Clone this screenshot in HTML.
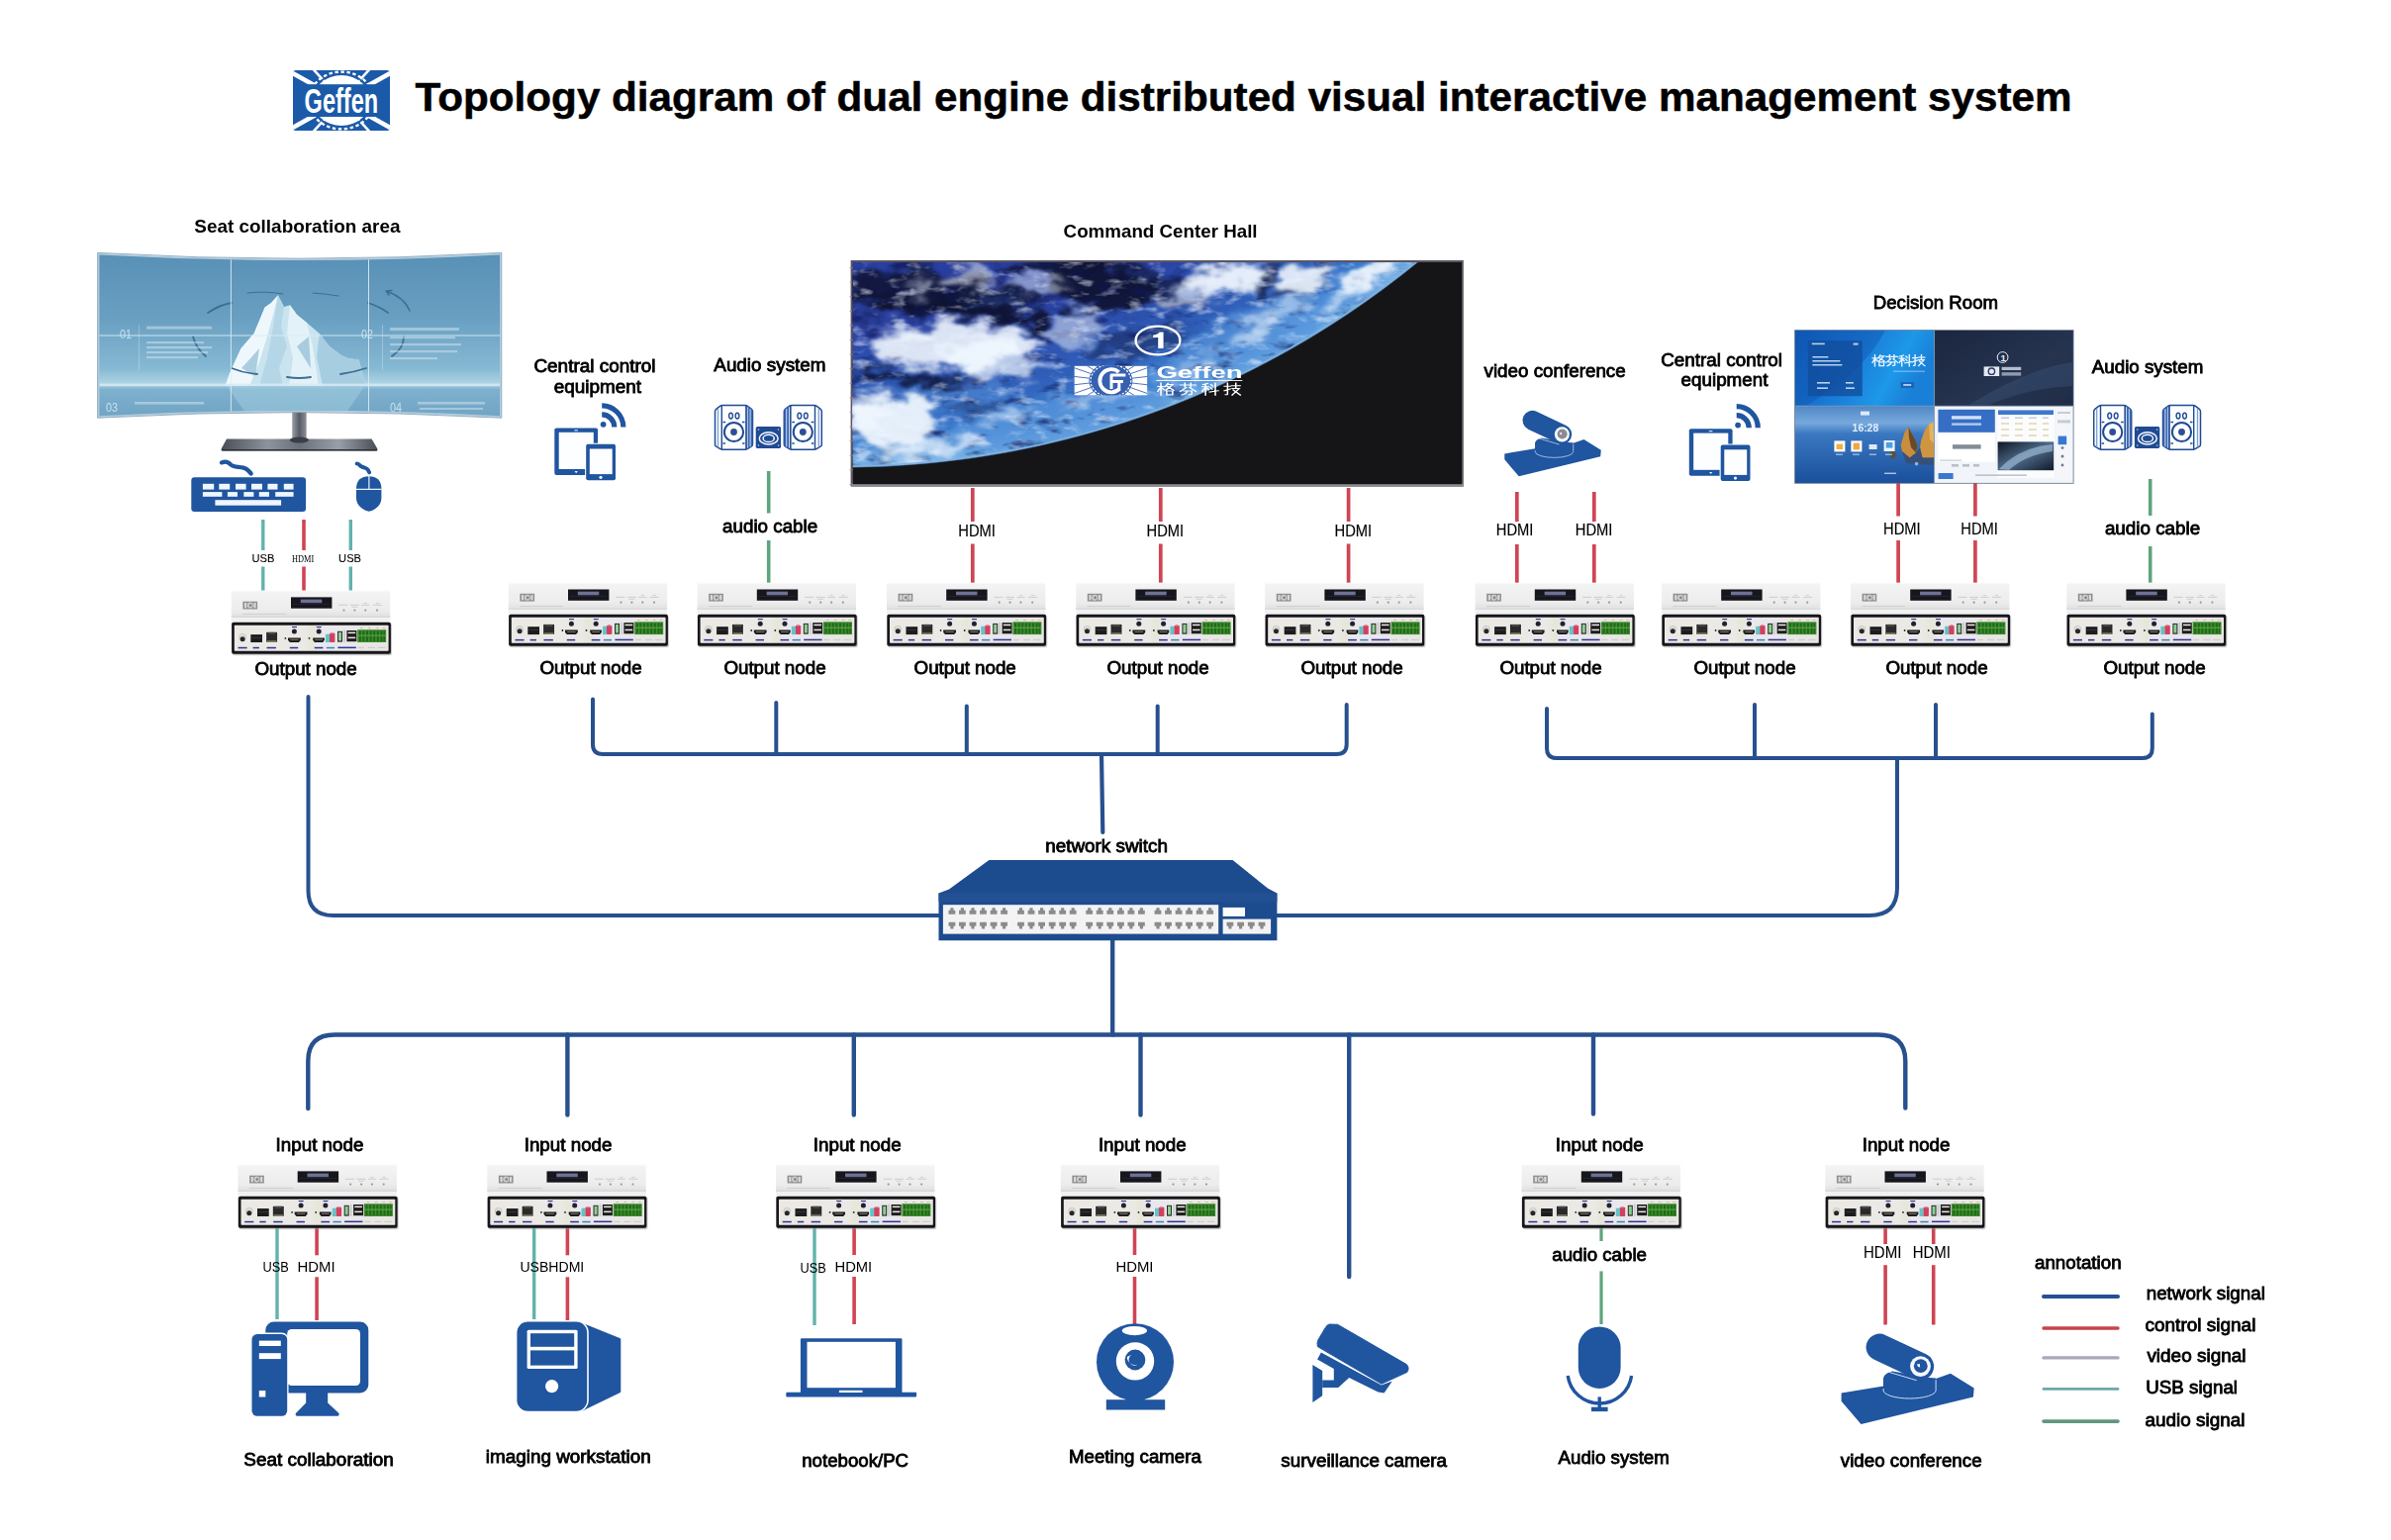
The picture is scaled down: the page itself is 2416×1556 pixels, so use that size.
<!DOCTYPE html>
<html><head><meta charset="utf-8"><title>Topology diagram</title>
<style>
html,body{margin:0;padding:0;background:#fff;}
body{width:2416px;height:1556px;overflow:hidden;}
svg{display:block;font-family:"Liberation Sans",sans-serif;}
</style></head><body>
<svg width="2416" height="1556" viewBox="0 0 2416 1556">
<rect width="2416" height="1556" fill="#fff"/>
<defs>
<linearGradient id="gTop" x1="0" y1="0" x2="0" y2="1">
<stop offset="0" stop-color="#f4f4f4"/><stop offset="0.75" stop-color="#ececec"/><stop offset="1" stop-color="#e0e0e0"/>
</linearGradient>
<linearGradient id="gRear" x1="0" y1="0" x2="1" y2="0">
<stop offset="0" stop-color="#ece9e4"/><stop offset="0.45" stop-color="#ebe9e6"/><stop offset="0.5" stop-color="#e6e6d8"/><stop offset="0.55" stop-color="#e9e8ee"/><stop offset="1" stop-color="#e8e6e2"/>
</linearGradient>
<filter id="soft" x="-5%" y="-5%" width="110%" height="110%"><feGaussianBlur stdDeviation="0.35"/></filter>
<symbol id="dev" width="166" height="70" viewBox="0 0 166 70" overflow="visible">
<g filter="url(#soft)">
<!-- front panel -->
<rect x="0" y="0.3" width="160.4" height="27" fill="url(#gTop)"/>
<rect x="0" y="0.3" width="160.4" height="1" fill="#fafafa"/>
<rect x="0" y="26.2" width="160.4" height="1.4" fill="#d9d9d9"/>
<rect x="0" y="27.6" width="160.4" height="4.6" fill="#f1f1f1"/>
<rect x="11.6" y="11.3" width="14.7" height="7.8" fill="#8e8e8e"/>
<rect x="13.2" y="12.6" width="2.2" height="5.2" fill="#d9d9d9"/>
<rect x="22.6" y="12.6" width="2.2" height="5.2" fill="#d9d9d9"/>
<circle cx="19" cy="15.2" r="3" fill="#cfcfcf"/><circle cx="19.4" cy="15.2" r="1.5" fill="#8a8a8a"/>
<rect x="11.3" y="23.6" width="44" height="1" fill="#cfcfcf"/>
<rect x="60.2" y="7" width="41.4" height="11.3" fill="#15151c"/>
<rect x="70" y="9.2" width="21.5" height="3.6" fill="#6d7196"/>
<rect x="62" y="13.6" width="38" height="0.8" fill="#262633"/>
<g fill="#c9c9c9">
<rect x="108.5" y="14.4" width="9" height="0.9"/><rect x="120" y="14.4" width="9" height="0.9"/><rect x="131.5" y="14.4" width="8" height="0.9"/><rect x="143" y="14.4" width="9" height="0.9"/>
<rect x="121.5" y="16.4" width="6" height="0.8"/><rect x="134" y="12.6" width="3" height="0.8"/><rect x="146" y="12.6" width="3" height="0.8"/>
</g>
<g fill="#9a9a9a"><circle cx="113.7" cy="20.2" r="1.1"/><circle cx="124.6" cy="20.2" r="1.1"/><circle cx="135.5" cy="20.2" r="1.1"/><circle cx="147.2" cy="20.2" r="1.1"/></g>
<!-- rear panel -->
<rect x="1.2" y="33.4" width="161" height="32.4" rx="2" fill="#9a9a9a" opacity="0.5"/>
<rect x="0.3" y="32.3" width="160.8" height="32" rx="1.8" fill="#17171b"/>
<rect x="3" y="35.3" width="155.8" height="26" rx="0.8" fill="url(#gRear)"/>
<!-- jack -->
<circle cx="11.3" cy="47.6" r="3.6" fill="#dcdcd6"/><circle cx="11.3" cy="47.2" r="3.4" fill="none" stroke="#bdbdb5" stroke-width="0.6"/>
<circle cx="11.3" cy="49.3" r="2.5" fill="#26262a"/>
<!-- sfp -->
<rect x="19.5" y="44.7" width="11.7" height="7.9" fill="#1b1b1e"/>
<rect x="20.5" y="47.6" width="9.7" height="0.8" fill="#3d3d42"/>
<!-- rj45 -->
<rect x="34.4" y="41.6" width="12.8" height="11.6" fill="#f4f4ee"/>
<rect x="35.3" y="42.4" width="11" height="10" fill="#2a2a2c"/>
<rect x="37" y="42.4" width="7.6" height="2" fill="#4a4a42"/>
<rect x="36" y="51" width="9.6" height="1.2" fill="#9a9a70"/>
<!-- hdmi 1 -->
<circle cx="54.6" cy="48.5" r="0.9" fill="#222"/>
<path d="M57.2 48 H70 V50.4 L68.2 52.6 H59 L57.2 50.4 Z" fill="#1d1d20"/>
<rect x="59.4" y="49.4" width="8.4" height="1" fill="#8a7a58"/>
<circle cx="63.6" cy="41.7" r="2.5" fill="#222226"/>
<rect x="61.2" y="36.6" width="5" height="1.1" fill="#2b2f8f"/>
<!-- hdmi 2 -->
<circle cx="78.7" cy="48.5" r="0.9" fill="#222"/>
<path d="M82.4 48 H94.1 V50.4 L92.4 52.6 H84.1 L82.4 50.4 Z" fill="#1d1d20"/>
<rect x="84.4" y="49.4" width="7.8" height="1" fill="#8a7a58"/>
<circle cx="88.4" cy="41.7" r="2.5" fill="#222226"/>
<rect x="86" y="36.6" width="5" height="1.1" fill="#2b2f8f"/>
<!-- audio jacks -->
<rect x="95.2" y="44.3" width="4" height="8.3" fill="#62c4c6"/>
<rect x="99.2" y="43.4" width="5.4" height="9.2" rx="0.8" fill="#d2405f"/>
<rect x="100.4" y="42.6" width="3" height="1.4" fill="#e08aa0"/>
<!-- small green usb -->
<rect x="107.2" y="41.4" width="5" height="10.8" fill="#2a2a2a"/>
<rect x="108.2" y="42.4" width="3" height="8.6" fill="#8bcf8f"/>
<rect x="113.4" y="40.4" width="1.6" height="12" fill="#c8c8c8"/>
<!-- usb -->
<rect x="116.6" y="40.6" width="10" height="11.2" fill="#1c1c1e"/>
<rect x="117.8" y="42.2" width="7.6" height="1.5" fill="#ece8e0"/>
<rect x="117.8" y="47.2" width="7.6" height="1.5" fill="#ece8e0"/>
<!-- terminal block -->
<rect x="127.4" y="39.8" width="29" height="12.8" fill="#3c8e2c"/>
<g fill="#24661c">
<rect x="129" y="41" width="2" height="10.6"/><rect x="132.6" y="41" width="2" height="10.6"/><rect x="136.2" y="41" width="2" height="10.6"/><rect x="139.8" y="41" width="2" height="10.6"/>
<rect x="143.4" y="41" width="2" height="10.6"/><rect x="147" y="41" width="2" height="10.6"/><rect x="150.6" y="41" width="2" height="10.6"/><rect x="153.6" y="41" width="1.6" height="10.6"/>
</g>
<rect x="127.4" y="45.2" width="29" height="1.1" fill="#56a844"/>
<g fill="#dca0a0"><rect x="130" y="37.6" width="3" height="0.7"/><rect x="138" y="37.6" width="3" height="0.7"/><rect x="146" y="37.6" width="3" height="0.7"/><rect x="152.5" y="37.6" width="3" height="0.7"/></g>
<!-- labels -->
<g fill="#2e3296">
<rect x="6.7" y="57.4" width="9.1" height="1.5"/><rect x="21.8" y="57.4" width="6.4" height="1.5"/><rect x="35.7" y="57.4" width="9.4" height="1.5"/>
<rect x="59" y="57.4" width="8.4" height="1.5"/><rect x="83.9" y="57.4" width="8.7" height="1.5"/><rect x="107.6" y="57.2" width="18.4" height="1.5"/>
</g>
<rect x="96" y="57.4" width="8.3" height="1.5" fill="#3a86b8"/>
<g fill="#cfcfc4"><rect x="128" y="57.4" width="6" height="1.2"/><rect x="138" y="57.4" width="7" height="1.2"/><rect x="148" y="57.4" width="7.5" height="1.2"/></g>
</g>
</symbol>
</defs>
<g transform="translate(296 71)"><clipPath id="lgc"><rect x="0" y="0" width="98" height="61" rx="3"/></clipPath>
<g clip-path="url(#lgc)">
<rect x="0" y="0" width="98" height="61" fill="#1b5aa9"/>
<g stroke="#fff" stroke-linecap="butt">
<path d="M49 30.5 L-3 1.4 M49 30.5 L101 1.4 M49 30.5 L-3 59.6 M49 30.5 L101 59.6" stroke-width="4.6"/>
<path d="M49 30.5 L20.6 -1 M49 30.5 L77.4 -1 M49 30.5 L20.6 62 M49 30.5 L77.4 62" stroke-width="2.6"/>
</g>
<ellipse cx="49" cy="30.5" rx="32.6" ry="28.8" fill="none" stroke="#fff" stroke-width="2.6" stroke-dasharray="3.4 2.6"/>
<ellipse cx="49" cy="30.5" rx="30.4" ry="26.8" fill="none" stroke="#1b5aa9" stroke-width="1.8"/>
<ellipse cx="49" cy="30.5" rx="29" ry="25.4" fill="#fff"/>
<rect x="0" y="14.2" width="98" height="32.8" fill="#1b5aa9"/>
</g>
<text x="11.6" y="43.2" font-size="34.5" font-weight="bold" fill="#fff" textLength="74.6" lengthAdjust="spacingAndGlyphs">Geffen</text></g>
<text x="419.6" y="112.4" font-size="40.5" font-weight="bold" fill="#000" stroke="#000" stroke-width="0.5" textLength="1673.9" lengthAdjust="spacingAndGlyphs">Topology diagram of dual engine distributed visual interactive management system</text>
<path d="M311.5 704 V900 Q311.5 925 336.5 925 H950" stroke="#27508f" stroke-width="4" fill="none" stroke-linecap="round" stroke-linejoin="round"/>
<path d="M599 706.5 V752 Q599 762 609 762 H1350.7 Q1360.7 762 1360.7 752 V712" stroke="#27508f" stroke-width="4" fill="none" stroke-linecap="round" stroke-linejoin="round"/>
<path d="M784.3 710 V762" stroke="#27508f" stroke-width="4" fill="none" stroke-linecap="round" stroke-linejoin="round"/>
<path d="M976.8 713.5 V762" stroke="#27508f" stroke-width="4" fill="none" stroke-linecap="round" stroke-linejoin="round"/>
<path d="M1169.7 713.5 V762" stroke="#27508f" stroke-width="4" fill="none" stroke-linecap="round" stroke-linejoin="round"/>
<path d="M1113 762 L1114.3 841" stroke="#27508f" stroke-width="4.2" fill="none" stroke-linecap="round" stroke-linejoin="round"/>
<path d="M1563 716 V756 Q1563 766 1573 766 H2164.8 Q2174.8 766 2174.8 756 V721.5" stroke="#27508f" stroke-width="4" fill="none" stroke-linecap="round" stroke-linejoin="round"/>
<path d="M1773 712 V766" stroke="#27508f" stroke-width="4" fill="none" stroke-linecap="round" stroke-linejoin="round"/>
<path d="M1956 712 V766" stroke="#27508f" stroke-width="4" fill="none" stroke-linecap="round" stroke-linejoin="round"/>
<path d="M1917 766 V897 Q1917 925 1889 925 H1289" stroke="#27508f" stroke-width="4" fill="none" stroke-linecap="round" stroke-linejoin="round"/>
<path d="M1124.2 948 V1045.5" stroke="#27508f" stroke-width="4.4" fill="none" stroke-linecap="round" stroke-linejoin="round"/>
<path d="M311.3 1120 V1072 Q311.3 1045.5 338 1045.5 H1898 Q1925.3 1045.5 1925.3 1072 V1119.5" stroke="#27508f" stroke-width="4.4" fill="none" stroke-linecap="round" stroke-linejoin="round"/>
<path d="M573.4 1045.5 V1126.5" stroke="#27508f" stroke-width="4.4" fill="none" stroke-linecap="round" stroke-linejoin="round"/>
<path d="M862.8 1045.5 V1126.5" stroke="#27508f" stroke-width="4.4" fill="none" stroke-linecap="round" stroke-linejoin="round"/>
<path d="M1152.5 1045.5 V1126.5" stroke="#27508f" stroke-width="4.4" fill="none" stroke-linecap="round" stroke-linejoin="round"/>
<path d="M1363.2 1045.5 V1290" stroke="#27508f" stroke-width="4.4" fill="none" stroke-linecap="round" stroke-linejoin="round"/>
<path d="M1610 1045.5 V1125.5" stroke="#27508f" stroke-width="4.4" fill="none" stroke-linecap="round" stroke-linejoin="round"/>
<line x1="265.8" y1="525.0" x2="265.8" y2="556.0" stroke="#62b3ad" stroke-width="3.4" stroke-linecap="butt"/>
<line x1="265.8" y1="572.5" x2="265.8" y2="597.5" stroke="#62b3ad" stroke-width="3.4" stroke-linecap="butt"/>
<line x1="307.0" y1="525.0" x2="307.0" y2="556.0" stroke="#cf4553" stroke-width="3.6" stroke-linecap="butt"/>
<line x1="307.0" y1="572.5" x2="307.0" y2="597.5" stroke="#cf4553" stroke-width="3.6" stroke-linecap="butt"/>
<line x1="354.3" y1="525.0" x2="354.3" y2="556.0" stroke="#62b3ad" stroke-width="3.4" stroke-linecap="butt"/>
<line x1="354.3" y1="572.5" x2="354.3" y2="597.5" stroke="#62b3ad" stroke-width="3.4" stroke-linecap="butt"/>
<line x1="776.7" y1="476.0" x2="776.7" y2="518.5" stroke="#5ea57d" stroke-width="3.6" stroke-linecap="butt"/>
<line x1="776.7" y1="546.0" x2="776.7" y2="589.5" stroke="#5ea57d" stroke-width="3.6" stroke-linecap="butt"/>
<line x1="982.8" y1="493.0" x2="982.8" y2="527.0" stroke="#cf4553" stroke-width="3.7" stroke-linecap="butt"/>
<line x1="982.8" y1="549.5" x2="982.8" y2="589.5" stroke="#cf4553" stroke-width="3.7" stroke-linecap="butt"/>
<line x1="1172.8" y1="493.0" x2="1172.8" y2="527.0" stroke="#cf4553" stroke-width="3.7" stroke-linecap="butt"/>
<line x1="1172.8" y1="549.5" x2="1172.8" y2="589.5" stroke="#cf4553" stroke-width="3.7" stroke-linecap="butt"/>
<line x1="1362.6" y1="493.0" x2="1362.6" y2="527.0" stroke="#cf4553" stroke-width="3.7" stroke-linecap="butt"/>
<line x1="1362.6" y1="549.5" x2="1362.6" y2="589.5" stroke="#cf4553" stroke-width="3.7" stroke-linecap="butt"/>
<line x1="1532.8" y1="497.0" x2="1532.8" y2="527.0" stroke="#cf4553" stroke-width="3.7" stroke-linecap="butt"/>
<line x1="1532.8" y1="550.0" x2="1532.8" y2="589.5" stroke="#cf4553" stroke-width="3.7" stroke-linecap="butt"/>
<line x1="1610.8" y1="497.0" x2="1610.8" y2="527.0" stroke="#cf4553" stroke-width="3.7" stroke-linecap="butt"/>
<line x1="1610.8" y1="550.0" x2="1610.8" y2="589.5" stroke="#cf4553" stroke-width="3.7" stroke-linecap="butt"/>
<line x1="1918.1" y1="488.0" x2="1918.1" y2="521.5" stroke="#cf4553" stroke-width="3.7" stroke-linecap="butt"/>
<line x1="1918.1" y1="546.0" x2="1918.1" y2="589.5" stroke="#cf4553" stroke-width="3.7" stroke-linecap="butt"/>
<line x1="1995.9" y1="488.0" x2="1995.9" y2="521.5" stroke="#cf4553" stroke-width="3.7" stroke-linecap="butt"/>
<line x1="1995.9" y1="546.0" x2="1995.9" y2="589.5" stroke="#cf4553" stroke-width="3.7" stroke-linecap="butt"/>
<line x1="2172.7" y1="484.0" x2="2172.7" y2="521.0" stroke="#5ea57d" stroke-width="3.6" stroke-linecap="butt"/>
<line x1="2172.7" y1="552.0" x2="2172.7" y2="589.5" stroke="#5ea57d" stroke-width="3.6" stroke-linecap="butt"/>
<line x1="280.0" y1="1240.0" x2="280.0" y2="1333.0" stroke="#62b3ad" stroke-width="3.4" stroke-linecap="butt"/>
<line x1="320.1" y1="1240.0" x2="320.1" y2="1268.3" stroke="#cf4553" stroke-width="3.6" stroke-linecap="butt"/>
<line x1="320.1" y1="1290.3" x2="320.1" y2="1334.0" stroke="#cf4553" stroke-width="3.6" stroke-linecap="butt"/>
<line x1="539.7" y1="1240.0" x2="539.7" y2="1333.0" stroke="#62b3ad" stroke-width="3.4" stroke-linecap="butt"/>
<line x1="573.4" y1="1240.0" x2="573.4" y2="1268.3" stroke="#cf4553" stroke-width="3.6" stroke-linecap="butt"/>
<line x1="573.4" y1="1290.3" x2="573.4" y2="1337.0" stroke="#cf4553" stroke-width="3.6" stroke-linecap="butt"/>
<line x1="823.0" y1="1240.0" x2="823.0" y2="1339.0" stroke="#62b3ad" stroke-width="3.4" stroke-linecap="butt"/>
<line x1="863.1" y1="1240.0" x2="863.1" y2="1268.0" stroke="#cf4553" stroke-width="3.6" stroke-linecap="butt"/>
<line x1="863.1" y1="1290.0" x2="863.1" y2="1338.0" stroke="#cf4553" stroke-width="3.6" stroke-linecap="butt"/>
<line x1="1146.5" y1="1240.0" x2="1146.5" y2="1268.0" stroke="#cf4553" stroke-width="3.6" stroke-linecap="butt"/>
<line x1="1146.5" y1="1290.0" x2="1146.5" y2="1339.0" stroke="#cf4553" stroke-width="3.6" stroke-linecap="butt"/>
<line x1="1618.0" y1="1240.0" x2="1618.0" y2="1254.0" stroke="#5ea57d" stroke-width="3.2" stroke-linecap="butt"/>
<line x1="1618.0" y1="1284.4" x2="1618.0" y2="1338.0" stroke="#5ea57d" stroke-width="3.2" stroke-linecap="butt"/>
<line x1="1905.1" y1="1240.0" x2="1905.1" y2="1257.0" stroke="#cf4553" stroke-width="3.6" stroke-linecap="butt"/>
<line x1="1905.1" y1="1278.2" x2="1905.1" y2="1338.5" stroke="#cf4553" stroke-width="3.6" stroke-linecap="butt"/>
<line x1="1953.7" y1="1240.0" x2="1953.7" y2="1257.0" stroke="#cf4553" stroke-width="3.6" stroke-linecap="butt"/>
<line x1="1953.7" y1="1278.2" x2="1953.7" y2="1338.5" stroke="#cf4553" stroke-width="3.6" stroke-linecap="butt"/>
<use href="#dev" x="233.8" y="596.4"/>
<use href="#dev" x="513.8" y="588.5"/>
<use href="#dev" x="704.6" y="588.5"/>
<use href="#dev" x="896" y="588.5"/>
<use href="#dev" x="1087.2" y="588.5"/>
<use href="#dev" x="1278.2" y="588.5"/>
<use href="#dev" x="1490.6" y="588.5"/>
<use href="#dev" x="1679" y="588.5"/>
<use href="#dev" x="1870" y="588.5"/>
<use href="#dev" x="2088.2" y="588.5"/>
<use href="#dev" x="240.5" y="1176.4"/>
<use href="#dev" x="492.3" y="1176.4"/>
<use href="#dev" x="784" y="1176.4"/>
<use href="#dev" x="1071.8" y="1176.4"/>
<use href="#dev" x="1537.6" y="1176.4"/>
<use href="#dev" x="1844.3" y="1176.4"/>
<g>
<defs>
<linearGradient id="mg" x1="0" y1="0" x2="0" y2="1">
<stop offset="0" stop-color="#5890b6"/><stop offset="0.4" stop-color="#699fc1"/><stop offset="0.7" stop-color="#86b9d3"/><stop offset="0.79" stop-color="#aed4e4"/><stop offset="0.825" stop-color="#7eb1cd"/><stop offset="1" stop-color="#6fa3c4"/>
</linearGradient>
<linearGradient id="stg" x1="0" y1="0" x2="1" y2="0"><stop offset="0" stop-color="#9a9ea6"/><stop offset="0.5" stop-color="#585c66"/><stop offset="1" stop-color="#8a8e96"/></linearGradient>
<linearGradient id="bsg" x1="0" y1="0" x2="1" y2="0"><stop offset="0" stop-color="#4a4e56"/><stop offset="0.3" stop-color="#8d949e"/><stop offset="0.5" stop-color="#6a707a"/><stop offset="0.75" stop-color="#989fa8"/><stop offset="1" stop-color="#4a4d55"/></linearGradient>
<clipPath id="mclip"><path d="M100.4 257.4 Q300 268.5 505 257.4 V420.2 Q300 409.4 100.4 420.2 Z"/></clipPath>
</defs>
<rect x="295.2" y="416" width="14.4" height="29" fill="url(#stg)"/>
<path d="M229 443.4 H375.6 L381.4 453.6 Q381.6 455.4 379.4 455.4 H225.4 Q223.2 455.4 223.6 453.6 Z" fill="url(#bsg)"/>
<ellipse cx="302.4" cy="444.6" rx="9.6" ry="3" fill="#3a3d46"/>
<path d="M224 454 H381 L381.4 455.6 H223.6 Z" fill="#2e3036"/>
<path d="M98.6 255.4 Q300 267 506.8 255.4 V422.2 Q300 411 98.6 422.2 Z" fill="#b4ccdd" stroke="#8aa7bd" stroke-width="0.9"/>
<g clip-path="url(#mclip)">
<rect x="99" y="255" width="408" height="168" fill="url(#mg)"/>
<!-- iceberg -->
<path d="M226.8 390 L232.3 376.6 L243.4 352.3 L256.6 336.9 L267.6 310.4 L274 306 L280.9 298.2 L287 310 L293 308.2 L300 318 L310 326 L322.8 336.9 L333 350 L344.9 358.9 L352 362 L362.6 363.4 L366 376 L369.2 390 Z" fill="#c9e3ef"/>
<path d="M280.9 298.2 L274 306 L267.6 310.4 L256.6 336.9 L243.4 352.3 L232.3 376.6 L228 390 L252 390 L262 366 L270 340 L276 318 Z" fill="#eef8fc"/>
<path d="M280.9 298.2 L287 310 L284 330 L290 350 L282 372 L286 390 L262 390 L270 362 L276 330 Z" fill="#b5d6e6"/>
<path d="M293 308.2 L300 318 L310 326 L316 350 L322 390 L292 390 L296 362 L290 336 Z" fill="#e3f2f9"/>
<path d="M322.8 336.9 L333 350 L344.9 358.9 L352 362 L362.6 363.4 L369.2 390 L326 390 L320 360 Z" fill="#a6cde0"/>
<path d="M244 372 L262 352 L258 380 Z M300 350 L312 340 L314 372 Z" fill="#8fbcd3" opacity="0.7"/>
<rect x="99" y="387.6" width="408" height="2.6" fill="#d6eaf3" opacity="0.85"/>
<path d="M230 391 H368 L350 417 H248 Z" fill="#a3cfe2" opacity="0.5"/>
<!-- arcs -->
<g fill="none" stroke="#3c6f94" stroke-width="1.8" stroke-linecap="round">
<path d="M210 316 Q222 308 234 306"/><path d="M195 340 Q198 352 208 360"/><path d="M234 372 Q246 377 260 378"/>
<path d="M290 381 Q302 383 314 381"/><path d="M344 378 Q358 376 370 372"/><path d="M372 306 Q384 310 392 316"/>
<path d="M408 340 Q408 352 396 360"/><path d="M250 296 Q270 294 286 297" stroke-width="1"/><path d="M316 296 Q330 297 342 299" stroke-width="1"/>
<path d="M390 294 Q408 300 414 314 M390 294 l6 -0.5 M390 294 l3 4" stroke-width="1.4"/>
</g>
<!-- text blocks -->
<g fill="#e6f2f8" opacity="0.42" filter="url(#b1)">
<rect x="148" y="329.6" width="66" height="3"/><rect x="148" y="345" width="58" height="2.2"/><rect x="148" y="350" width="66" height="2.2"/><rect x="148" y="355" width="62" height="2.2"/><rect x="148" y="360" width="52" height="2.2"/>
<rect x="394" y="331" width="70" height="3"/><rect x="394" y="340" width="66" height="2.2"/><rect x="394" y="347" width="72" height="2.2"/><rect x="394" y="354" width="68" height="2.2"/><rect x="394" y="361" width="48" height="2.2"/>
<rect x="136" y="406" width="70" height="2.6"/><rect x="422" y="406" width="68" height="2.6"/><rect x="424" y="412" width="64" height="2"/>
<rect x="140" y="328" width="0.8" height="46"/><rect x="386" y="328" width="0.8" height="46"/>
</g>
<g fill="#eef6fa" font-size="13" opacity="0.7">
<text x="121" y="342" textLength="12" lengthAdjust="spacingAndGlyphs">01</text><text x="365" y="342" textLength="12" lengthAdjust="spacingAndGlyphs">02</text>
<text x="107" y="416" textLength="12" lengthAdjust="spacingAndGlyphs">03</text><text x="394" y="416" textLength="12" lengthAdjust="spacingAndGlyphs">04</text>
</g>
<!-- dividers -->
<g stroke="#d9edf6" stroke-width="1" opacity="0.9">
<path d="M233.4 255 V423 M372.5 255 V423 M99 339 H507"/>
</g>
</g>
</g>
<g>
<defs>
<clipPath id="bsc"><rect x="861.8" y="265" width="615.2" height="224.4"/></clipPath>
<radialGradient id="earth" cx="851.1" cy="-446.7" r="919.6" gradientUnits="userSpaceOnUse">
<stop offset="0" stop-color="#1f2f8c"/><stop offset="0.84" stop-color="#2a40a2"/><stop offset="0.93" stop-color="#3060ba"/><stop offset="0.972" stop-color="#3f82d2"/><stop offset="0.993" stop-color="#68a8e2"/><stop offset="0.9985" stop-color="#7fb4e4"/><stop offset="1" stop-color="#1c2a40"/>
</radialGradient>
<filter id="bl5" x="-30%" y="-30%" width="160%" height="160%"><feGaussianBlur stdDeviation="5"/></filter>
<filter id="rough" x="-5%" y="-5%" width="110%" height="110%" color-interpolation-filters="sRGB">
<feTurbulence type="fractalNoise" baseFrequency="0.035 0.07" numOctaves="4" seed="7" result="n"/>
<feGaussianBlur in="SourceGraphic" stdDeviation="3.2" result="b"/>
<feDisplacementMap in="b" in2="n" scale="34" xChannelSelector="R" yChannelSelector="G" result="d"/>
<feGaussianBlur in="d" stdDeviation="0.9"/>
</filter>
<filter id="grain" x="0" y="0" width="100%" height="100%" color-interpolation-filters="sRGB">
<feTurbulence type="fractalNoise" baseFrequency="0.05 0.11" numOctaves="3" seed="3" result="n"/>
<feColorMatrix in="n" type="matrix" values="0 0 0 0 0.93  0 0 0 0 0.96  0 0 0 0 1  2.6 2.0 0 0 -2.45"/>
</filter>
<filter id="grain2" x="0" y="0" width="100%" height="100%" color-interpolation-filters="sRGB">
<feTurbulence type="fractalNoise" baseFrequency="0.04 0.09" numOctaves="3" seed="19" result="n"/>
<feColorMatrix in="n" type="matrix" values="0 0 0 0 0.06  0 0 0 0 0.09  0 0 0 0 0.34  0 2.6 2.0 0 -2.5"/>
</filter>
<clipPath id="earthc"><circle cx="851.1" cy="-446.7" r="917.1"/></clipPath>
</defs>
<rect x="859.6" y="263" width="619.2" height="228.6" fill="#5a5560"/>
<rect x="860.6" y="488.6" width="618" height="3" fill="#8b8890"/>
<rect x="858.6" y="270.0" width="3" height="1" fill="#8d8b92"/><rect x="858.6" y="284.6" width="3" height="1" fill="#8d8b92"/><rect x="858.6" y="299.2" width="3" height="1" fill="#8d8b92"/><rect x="858.6" y="313.8" width="3" height="1" fill="#8d8b92"/><rect x="858.6" y="328.4" width="3" height="1" fill="#8d8b92"/><rect x="858.6" y="343.0" width="3" height="1" fill="#8d8b92"/><rect x="858.6" y="357.6" width="3" height="1" fill="#8d8b92"/><rect x="858.6" y="372.2" width="3" height="1" fill="#8d8b92"/><rect x="858.6" y="386.8" width="3" height="1" fill="#8d8b92"/><rect x="858.6" y="401.4" width="3" height="1" fill="#8d8b92"/><rect x="858.6" y="416.0" width="3" height="1" fill="#8d8b92"/><rect x="858.6" y="430.6" width="3" height="1" fill="#8d8b92"/><rect x="858.6" y="445.2" width="3" height="1" fill="#8d8b92"/><rect x="858.6" y="459.8" width="3" height="1" fill="#8d8b92"/><rect x="858.6" y="474.4" width="3" height="1" fill="#8d8b92"/><rect x="858.6" y="489.0" width="3" height="1" fill="#8d8b92"/>
<g clip-path="url(#bsc)">
<rect x="861.6" y="265" width="615.4" height="224.4" fill="#151517"/>
<circle cx="851.1" cy="-446.7" r="919.6" fill="url(#earth)"/>
<g clip-path="url(#earthc)">
<g fill="#5a96dc" filter="url(#rough)"><ellipse cx="1070" cy="425" rx="120" ry="26" transform="rotate(-9 1070 425)" opacity="0.7"/><ellipse cx="1250" cy="350" rx="90" ry="30" transform="rotate(-24 1250 350)" opacity="0.6"/><ellipse cx="1340" cy="310" rx="60" ry="16" transform="rotate(-32 1340 310)" opacity="0.6"/><ellipse cx="960" cy="400" rx="60" ry="14" transform="rotate(-4 960 400)" opacity="0.5"/><ellipse cx="1000" cy="300" rx="40" ry="10" transform="rotate(0 1000 300)" opacity="0.35"/></g>
<g fill="#0f1434" filter="url(#rough)"><ellipse cx="958" cy="311" rx="100" ry="10" transform="rotate(7 958 311)" opacity="1.0"/><ellipse cx="930" cy="288" rx="72" ry="16" transform="rotate(2 930 288)" opacity="0.9"/><ellipse cx="1010" cy="296" rx="50" ry="10" transform="rotate(6 1010 296)" opacity="0.8"/><ellipse cx="1116" cy="290" rx="56" ry="24" transform="rotate(0 1116 290)" opacity="0.95"/><ellipse cx="1070" cy="270" rx="60" ry="8" transform="rotate(0 1070 270)" opacity="0.9"/><ellipse cx="925" cy="383" rx="60" ry="4.6" transform="rotate(5 925 383)" opacity="0.95"/><ellipse cx="880" cy="376" rx="20" ry="5" transform="rotate(12 880 376)" opacity="0.9"/><ellipse cx="1053" cy="328" rx="10" ry="14" transform="rotate(0 1053 328)" opacity="0.9"/><ellipse cx="1280" cy="281" rx="7" ry="20" transform="rotate(32 1280 281)" opacity="0.85"/><ellipse cx="1306" cy="292" rx="20" ry="5" transform="rotate(-16 1306 292)" opacity="0.75"/><ellipse cx="1180" cy="292" rx="24" ry="12" transform="rotate(-10 1180 292)" opacity="0.6"/><ellipse cx="1150" cy="345" rx="56" ry="13" transform="rotate(-12 1150 345)" opacity="0.4"/><ellipse cx="875" cy="322" rx="14" ry="6" transform="rotate(0 875 322)" opacity="0.5"/><ellipse cx="990" cy="412" rx="26" ry="2.6" transform="rotate(-8 990 412)" opacity="0.6"/><ellipse cx="900" cy="458" rx="12" ry="2" transform="rotate(0 900 458)" opacity="0.5"/></g>
<rect x="861.6" y="265" width="615.4" height="224.4" filter="url(#grain2)" opacity="0.75"/>
<g fill="#eef5fd" filter="url(#rough)"><ellipse cx="965" cy="350" rx="82" ry="22" transform="rotate(-3 965 350)" opacity="0.9"/><ellipse cx="992" cy="358" rx="44" ry="14" transform="rotate(-4 992 358)" opacity="0.95"/><ellipse cx="915" cy="338" rx="30" ry="10" transform="rotate(0 915 338)" opacity="0.7"/><ellipse cx="1020" cy="372" rx="40" ry="9" transform="rotate(-8 1020 372)" opacity="0.7"/><ellipse cx="903" cy="428" rx="42" ry="27" transform="rotate(-8 903 428)" opacity="0.95"/><ellipse cx="880" cy="420" rx="22" ry="11" transform="rotate(0 880 420)" opacity="1.0"/><ellipse cx="884" cy="402" rx="22" ry="6" transform="rotate(0 884 402)" opacity="0.8"/><ellipse cx="940" cy="452" rx="50" ry="9" transform="rotate(-8 940 452)" opacity="0.7"/><ellipse cx="977" cy="280" rx="28" ry="10" transform="rotate(0 977 280)" opacity="0.55"/><ellipse cx="1046" cy="286" rx="34" ry="7" transform="rotate(4 1046 286)" opacity="0.5"/><ellipse cx="930" cy="287" rx="14" ry="6" transform="rotate(0 930 287)" opacity="0.5"/><ellipse cx="1088" cy="332" rx="26" ry="18" transform="rotate(-25 1088 332)" opacity="0.5"/><ellipse cx="1240" cy="281" rx="46" ry="14" transform="rotate(-10 1240 281)" opacity="0.95"/><ellipse cx="1318" cy="282" rx="34" ry="13" transform="rotate(-18 1318 282)" opacity="0.9"/><ellipse cx="1385" cy="277" rx="34" ry="9" transform="rotate(-30 1385 277)" opacity="0.95"/><ellipse cx="1200" cy="300" rx="30" ry="7" transform="rotate(-10 1200 300)" opacity="0.6"/><ellipse cx="1290" cy="318" rx="36" ry="7" transform="rotate(-24 1290 318)" opacity="0.5"/><ellipse cx="1262" cy="338" rx="24" ry="9" transform="rotate(-20 1262 338)" opacity="0.55"/><ellipse cx="1350" cy="306" rx="22" ry="5" transform="rotate(-32 1350 306)" opacity="0.6"/><ellipse cx="1016" cy="421" rx="30" ry="6" transform="rotate(-8 1016 421)" opacity="0.5"/><ellipse cx="1110" cy="402" rx="40" ry="5" transform="rotate(-14 1110 402)" opacity="0.4"/><ellipse cx="1200" cy="372" rx="40" ry="5" transform="rotate(-20 1200 372)" opacity="0.35"/></g>
<rect x="861.6" y="265" width="615.4" height="224.4" filter="url(#grain)" opacity="0.55"/>
</g>
</g>
<!-- logo overlay -->
<ellipse cx="1170" cy="344" rx="22.4" ry="14.4" fill="none" stroke="#fff" stroke-width="2.3"/>
<path d="M1171.6 335.4 h4 v16.6 h-5.4 v-11 h-5 v-2.6 q4.6 -0.4 6.4 -3 z" fill="#fff"/>
<g transform="translate(1085.4 369.6)"><clipPath id="glc1085"><rect x="0" y="0" width="74" height="30"/></clipPath>
<g clip-path="url(#glc1085)">
<rect x="0" y="0" width="74" height="30" fill="#fff"/>
<path d="M37 15 L96.6 21.7 M37 15 L93.6 34.8 M37 15 L87.8 46.9 M37 15 L79.4 57.4 M37 15 L68.9 65.8 M37 15 L56.8 71.6 M37 15 L43.7 74.6 M37 15 L30.3 74.6 M37 15 L17.2 71.6 M37 15 L5.1 65.8 M37 15 L-5.4 57.4 M37 15 L-13.8 46.9 M37 15 L-19.6 34.8 M37 15 L-22.6 21.7 M37 15 L-22.6 8.3 M37 15 L-19.6 -4.8 M37 15 L-13.8 -16.9 M37 15 L-5.4 -27.4 M37 15 L5.1 -35.8 M37 15 L17.2 -41.6 M37 15 L30.3 -44.6 M37 15 L43.7 -44.6 M37 15 L56.8 -41.6 M37 15 L68.9 -35.8 M37 15 L79.4 -27.4 M37 15 L87.8 -16.9 M37 15 L93.6 -4.8 M37 15 L96.6 8.3 " stroke="#3a64b4" stroke-width="0.9" fill="none"/>
<ellipse cx="37" cy="15" rx="22" ry="18" fill="#3660b0"/>
<ellipse cx="37" cy="15" rx="20.4" ry="16.4" fill="none" stroke="#fff" stroke-width="1.2" stroke-dasharray="2.2 1.5"/>
<path d="M45.2 6.4 A11.6 11.6 0 1 0 46 23" fill="none" stroke="#fff" stroke-width="3.8"/>
<path d="M36.4 9.4 H52 M37.6 9.4 V23.4 M36.4 16 H49.6 M45.4 16 V24" stroke="#fff" stroke-width="3" fill="none"/>
</g></g>
<text x="1168.4" y="382.2" font-size="16" font-weight="bold" fill="#fff" textLength="87.2" lengthAdjust="spacingAndGlyphs">Geffen</text>
<rect x="1168.4" y="384" width="87" height="0.9" fill="#fff"/>
<path transform="translate(1169.5 386.8) scale(1.674 1.240)" d="M0.3 3 H4 M2.1 0.3 V10 M2.1 3.4 L0.2 7 M2.1 3.4 L4 5.6 M6.4 0.4 L4.6 3.2 M6 1.4 H9.2 L5 6 M5.6 2.6 L9.8 6 M5.6 6.6 H9.2 V9.8 H5.6 Z" fill="none" stroke="#fff" stroke-width="0.93" stroke-linecap="square"/><path transform="translate(1191.9 386.8) scale(1.674 1.240)" d="M0.3 1.8 H9.7 M3.2 0.3 V3.2 M6.8 0.3 V3.2 M4 3.8 L0.4 7 M6 3.8 L9.8 7 M2.6 6.6 H7.4 V8.6 Q7.4 9.8 5.8 9.7 M4.6 6.6 Q4.4 8.8 1.4 9.9" fill="none" stroke="#fff" stroke-width="0.93" stroke-linecap="square"/><path transform="translate(1214.3 386.8) scale(1.674 1.240)" d="M3.6 0.5 L0.8 1.4 M0.3 3.2 H4.2 M2.3 1.2 V10 M2.3 3.6 L0.3 7 M2.3 3.6 L4.2 5.6 M5.6 1.4 L6.6 2.6 M5.4 4 L6.4 5.2 M4.8 7.4 L9.9 6.4 M8.2 0.3 V10" fill="none" stroke="#fff" stroke-width="0.93" stroke-linecap="square"/><path transform="translate(1236.7 386.8) scale(1.674 1.240)" d="M0.3 2.8 H3.8 M2.2 0.3 V9 Q2.2 9.9 1 9.6 M0.3 6.4 L3.8 5 M4.6 2.4 H9.8 M7.2 0.3 V4.6 M5 4.6 H9.2 L5 9.9 M5.6 5.8 L9.9 9.9" fill="none" stroke="#fff" stroke-width="0.93" stroke-linecap="square"/>
</g>
<g>
<defs>
<linearGradient id="d1" x1="0" y1="0" x2="1" y2="0.3"><stop offset="0" stop-color="#0f58b6"/><stop offset="0.5" stop-color="#1a7cd8"/><stop offset="0.8" stop-color="#1d98e8"/><stop offset="1" stop-color="#1a7fd6"/></linearGradient>
<linearGradient id="d2" x1="0" y1="0" x2="1" y2="1"><stop offset="0" stop-color="#1b2640"/><stop offset="0.6" stop-color="#26344f"/><stop offset="1" stop-color="#202c46"/></linearGradient>
<linearGradient id="d3" x1="0" y1="0" x2="0" y2="1"><stop offset="0" stop-color="#4f86c6"/><stop offset="0.22" stop-color="#77a9dc"/><stop offset="0.36" stop-color="#3a78c0"/><stop offset="1" stop-color="#1a4f9c"/></linearGradient>
<linearGradient id="d4i" x1="0" y1="0" x2="1" y2="1"><stop offset="0" stop-color="#0d1622"/><stop offset="0.5" stop-color="#4d6a88"/><stop offset="1" stop-color="#101a28"/></linearGradient>
<filter id="b1" x="-10%" y="-10%" width="120%" height="120%"><feGaussianBlur stdDeviation="0.6"/></filter>
</defs>
<rect x="1813.2" y="333.2" width="282.29999999999984" height="155.49999999999997" fill="#5f7385"/>
<!-- TL -->
<rect x="1814.0" y="334.0" width="140.5" height="76.19999999999999" fill="url(#d1)"/>
<path d="M1905 334 Q1880 380 1826 409 H1814 V334 Z" fill="#0f55b0" opacity="0.45"/>
<rect x="1826.8" y="344.2" width="55" height="56" fill="#124e9e" opacity="0.8"/>
<g fill="#d7e8fa" opacity="0.85" filter="url(#b1)">
<rect x="1830.8" y="346.6" width="13" height="1.6"/><rect x="1872.6" y="346.6" width="5" height="2"/>
<rect x="1831.4" y="360" width="16" height="1.5"/><rect x="1831.4" y="364" width="28" height="1.5"/><rect x="1831.4" y="368" width="30" height="1.5"/>
<rect x="1836" y="386" width="13" height="1.6"/><rect x="1836" y="391.4" width="11" height="1.6"/><rect x="1865" y="386" width="8" height="1.6"/><rect x="1865" y="391.4" width="9" height="1.6"/>
<rect x="1913" y="374.6" width="32" height="1.2" opacity="0.6"/>
</g>
<rect x="1920.6" y="386.2" width="13.6" height="5.6" fill="#1a62b8"/><rect x="1923.2" y="388.2" width="8" height="1.5" fill="#d7e8fa"/>
<path transform="translate(1891.8 358.4) scale(1.277 1.140)" d="M0.3 3 H4 M2.1 0.3 V10 M2.1 3.4 L0.2 7 M2.1 3.4 L4 5.6 M6.4 0.4 L4.6 3.2 M6 1.4 H9.2 L5 6 M5.6 2.6 L9.8 6 M5.6 6.6 H9.2 V9.8 H5.6 Z" fill="none" stroke="#e8f3ff" stroke-width="1.10" stroke-linecap="square"/><path transform="translate(1905.3 358.4) scale(1.277 1.140)" d="M0.3 1.8 H9.7 M3.2 0.3 V3.2 M6.8 0.3 V3.2 M4 3.8 L0.4 7 M6 3.8 L9.8 7 M2.6 6.6 H7.4 V8.6 Q7.4 9.8 5.8 9.7 M4.6 6.6 Q4.4 8.8 1.4 9.9" fill="none" stroke="#e8f3ff" stroke-width="1.10" stroke-linecap="square"/><path transform="translate(1918.8 358.4) scale(1.277 1.140)" d="M3.6 0.5 L0.8 1.4 M0.3 3.2 H4.2 M2.3 1.2 V10 M2.3 3.6 L0.3 7 M2.3 3.6 L4.2 5.6 M5.6 1.4 L6.6 2.6 M5.4 4 L6.4 5.2 M4.8 7.4 L9.9 6.4 M8.2 0.3 V10" fill="none" stroke="#e8f3ff" stroke-width="1.10" stroke-linecap="square"/><path transform="translate(1932.3 358.4) scale(1.277 1.140)" d="M0.3 2.8 H3.8 M2.2 0.3 V9 Q2.2 9.9 1 9.6 M0.3 6.4 L3.8 5 M4.6 2.4 H9.8 M7.2 0.3 V4.6 M5 4.6 H9.2 L5 9.9 M5.6 5.8 L9.9 9.9" fill="none" stroke="#e8f3ff" stroke-width="1.10" stroke-linecap="square"/>
<!-- TR -->
<rect x="1954.5" y="334.0" width="140.19999999999982" height="76.19999999999999" fill="url(#d2)"/>
<path d="M1990 409 Q2050 372 2094 366 V390 Q2050 392 2010 409 Z" fill="#3a5278" opacity="0.45" filter="url(#b1)"/>
<circle cx="2023.6" cy="361" r="5.4" fill="none" stroke="#e8eef8" stroke-width="1"/>
<text x="2021.4" y="364.6" font-size="9.6" fill="#e8eef8" font-weight="bold">1</text>
<rect x="2004.6" y="370.4" width="15.6" height="9.6" fill="#e4e9f2"/>
<circle cx="2012.4" cy="375.2" r="3.2" fill="none" stroke="#2a3d60" stroke-width="1.4"/>
<g fill="#cfd7e6" opacity="0.85"><rect x="2022.6" y="370.8" width="19.6" height="3.2"/><rect x="2022.6" y="376.2" width="19.6" height="3.4" opacity="0.75"/></g>
<!-- BL -->
<rect x="1814.0" y="410.2" width="140.5" height="77.69999999999999" fill="url(#d3)"/>
<g filter="url(#b1)">
<path d="M1920.6 449.7 L1924.5 436.7 L1928.4 431.5 L1931 436.7 L1934.8 443.2 L1937.4 449.7 L1936.1 457.4 L1929.7 462.6 L1921.9 456.1 Z" fill="#c98d3c"/>
<path d="M1928.4 431.5 L1931 436.7 L1934.8 443.2 L1937.4 449.7 L1936.1 457.4 L1931 452 L1929 442 Z" fill="#6a4a2a"/>
<path d="M1941.3 444.5 L1945.2 434.1 L1949.1 428.9 L1953.6 426.3 L1954.3 462.6 L1942.6 462.6 L1940 452.2 Z" fill="#cf953f"/>
<path d="M1949.1 428.9 L1953.6 426.3 L1954.3 448 L1950 444 Z" fill="#e3b35e"/>
<path d="M1921.9 456.1 L1929.7 462.6 L1936.1 457.4 L1940 452.2 L1942.6 462.6 L1954.3 462.6 V470 L1926 468 Z" fill="#3d4a66" opacity="0.75"/>
<path d="M1909.6 458 l3.2 -5.4 l3 5.6 l-1 5 h-4.2 z" fill="#58513a"/>
</g>
<g fill="#e8f2fc" opacity="0.92"><rect x="1880" y="415.6" width="9" height="4"/>
<text x="1871.6" y="435.6" font-size="10.4" font-weight="bold" fill="#eef6ff" textLength="26.6" lengthAdjust="spacingAndGlyphs" stroke="none">16:28</text></g>
<rect x="1853.4" y="445.4" width="11" height="11" fill="#fff"/><rect x="1855.6" y="448.6" width="6.4" height="5.4" fill="#f0b040"/>
<rect x="1870.4" y="445.4" width="11" height="11" fill="#fff"/><rect x="1872.6" y="447.6" width="6.4" height="6.8" fill="#f2a640"/>
<rect x="1888.6" y="449" width="8" height="5" fill="#dde9f6"/>
<rect x="1903.6" y="445" width="11" height="11" fill="#eef5ff"/><rect x="1905.8" y="447" width="6.6" height="5.6" fill="#4aa0e0"/>
<g fill="#cfe0f2" opacity="0.8"><rect x="1855" y="458.6" width="7" height="1.2"/><rect x="1872" y="458.6" width="7" height="1.2"/><rect x="1889" y="458.6" width="7" height="1.2"/><rect x="1905" y="458.6" width="7" height="1.2"/><rect x="1904" y="477.6" width="12" height="1.4"/></g>
<circle cx="1936.6" cy="468.6" r="1.8" fill="#8ab8e6"/>
<!-- BR -->
<rect x="1954.5" y="410.2" width="140.19999999999982" height="77.69999999999999" fill="#f1f4f8"/>
<rect x="1958.4" y="413.8" width="57.4" height="23" fill="#356ec4"/>
<g fill="#cfe0f8"><rect x="1972" y="420.2" width="30" height="3.4"/><rect x="1972" y="427.4" width="30" height="2.4" opacity="0.8"/></g>
<rect x="1958.4" y="437.6" width="57.4" height="29" fill="#ffffff"/>
<rect x="1973" y="449.2" width="28.6" height="4.4" fill="#6f7782" opacity="0.85"/>
<g fill="#b7c0cc"><rect x="1960" y="464.6" width="22" height="1"/><rect x="1972" y="469" width="7" height="2.6"/><rect x="1983" y="469" width="7" height="2.6"/><rect x="1994" y="469" width="6" height="2.6"/></g>
<rect x="1958.6" y="478" width="15" height="6" fill="#3a78d0"/>
<rect x="2018" y="413" width="58" height="70" fill="#fbfcfe"/>
<rect x="2019" y="414.4" width="56" height="4.6" fill="#3d78cc"/>
<g fill="#d8b878" opacity="0.75"><rect x="2022" y="427.4" width="8" height="1.2"/><rect x="2036" y="427.4" width="8" height="1.2"/><rect x="2050" y="427.4" width="8" height="1.2"/><rect x="2064" y="427.4" width="6" height="1.2"/>
<rect x="2022" y="433.4" width="8" height="1.2"/><rect x="2036" y="433.4" width="8" height="1.2"/><rect x="2050" y="433.4" width="8" height="1.2"/><rect x="2064" y="433.4" width="6" height="1.2"/>
<rect x="2022" y="439.4" width="8" height="1.2"/><rect x="2036" y="439.4" width="8" height="1.2"/><rect x="2050" y="439.4" width="8" height="1.2"/><rect x="2064" y="439.4" width="6" height="1.2"/></g>
<g fill="#9aa8bc" opacity="0.7"><rect x="2022" y="421.6" width="8" height="1.2"/><rect x="2036" y="421.6" width="8" height="1.2"/><rect x="2050" y="421.6" width="8" height="1.2"/><rect x="2064" y="421.6" width="6" height="1.2"/></g>
<rect x="2018.6" y="446.4" width="56.6" height="28.8" fill="url(#d4i)"/>
<path d="M2020 474 Q2040 452 2074 449 V456 Q2046 460 2030 475 Z" fill="#a9c4de" opacity="0.6" filter="url(#b1)"/>
<rect x="2077.4" y="413" width="16.6" height="71" fill="#f4f6fa"/>
<g fill="#c4ccd8"><rect x="2079" y="416" width="13" height="2"/><rect x="2079" y="424.4" width="13" height="3"/></g>
<rect x="2079.6" y="440.6" width="8.6" height="8.6" fill="#3a78d0"/>
<g fill="#6f7a8a"><circle cx="2084" cy="452.6" r="1.4"/><circle cx="2084" cy="461" r="1.5"/><circle cx="2084" cy="470" r="1.4"/></g>
<rect x="1996" y="479.6" width="52" height="1" fill="#9aa4b2"/>
<!-- dividers -->
<path d="M1954.5 334.0 V487.9 M1814.0 410.2 H2094.7" stroke="#7f9bb5" stroke-width="1.1" opacity="0.85"/>
</g>
<g>
<path d="M999.4 869 H1245.6 L1281 897.6 L1290.4 902.5 V950.3 H948.5 V902.5 L959 898.6 Z" fill="#1d4c8e"/>
<path d="M948.5 902.5 H1290.4 V911 H948.5 Z" fill="#234f93"/>
<rect x="952.9" y="914.2" width="278.3" height="29.4" fill="#f3f3f3"/>
<rect x="1235.6" y="916.9" width="22.4" height="9" fill="#fbfbfb"/>
<rect x="1235.6" y="928.6" width="48.5" height="15" fill="#f3f3f3"/>
<g fill="#8b8b8b"><path d="M958.5 923.8 h6.8 v-4 h-1.8 v-2.6 h-3.2 v2.6 h-1.8 z"/><path d="M958.5 931.8 h6.8 v4 h-1.8 v2.8 h-3.2 v-2.8 h-1.8 z"/><path d="M969.0 923.8 h6.8 v-4 h-1.8 v-2.6 h-3.2 v2.6 h-1.8 z"/><path d="M969.0 931.8 h6.8 v4 h-1.8 v2.8 h-3.2 v-2.8 h-1.8 z"/><path d="M979.6 923.8 h6.8 v-4 h-1.8 v-2.6 h-3.2 v2.6 h-1.8 z"/><path d="M979.6 931.8 h6.8 v4 h-1.8 v2.8 h-3.2 v-2.8 h-1.8 z"/><path d="M990.1 923.8 h6.8 v-4 h-1.8 v-2.6 h-3.2 v2.6 h-1.8 z"/><path d="M990.1 931.8 h6.8 v4 h-1.8 v2.8 h-3.2 v-2.8 h-1.8 z"/><path d="M1000.7 923.8 h6.8 v-4 h-1.8 v-2.6 h-3.2 v2.6 h-1.8 z"/><path d="M1000.7 931.8 h6.8 v4 h-1.8 v2.8 h-3.2 v-2.8 h-1.8 z"/><path d="M1011.2 923.8 h6.8 v-4 h-1.8 v-2.6 h-3.2 v2.6 h-1.8 z"/><path d="M1011.2 931.8 h6.8 v4 h-1.8 v2.8 h-3.2 v-2.8 h-1.8 z"/><path d="M1028.1 923.8 h6.8 v-4 h-1.8 v-2.6 h-3.2 v2.6 h-1.8 z"/><path d="M1028.1 931.8 h6.8 v4 h-1.8 v2.8 h-3.2 v-2.8 h-1.8 z"/><path d="M1038.6 923.8 h6.8 v-4 h-1.8 v-2.6 h-3.2 v2.6 h-1.8 z"/><path d="M1038.6 931.8 h6.8 v4 h-1.8 v2.8 h-3.2 v-2.8 h-1.8 z"/><path d="M1049.2 923.8 h6.8 v-4 h-1.8 v-2.6 h-3.2 v2.6 h-1.8 z"/><path d="M1049.2 931.8 h6.8 v4 h-1.8 v2.8 h-3.2 v-2.8 h-1.8 z"/><path d="M1059.8 923.8 h6.8 v-4 h-1.8 v-2.6 h-3.2 v2.6 h-1.8 z"/><path d="M1059.8 931.8 h6.8 v4 h-1.8 v2.8 h-3.2 v-2.8 h-1.8 z"/><path d="M1070.3 923.8 h6.8 v-4 h-1.8 v-2.6 h-3.2 v2.6 h-1.8 z"/><path d="M1070.3 931.8 h6.8 v4 h-1.8 v2.8 h-3.2 v-2.8 h-1.8 z"/><path d="M1080.8 923.8 h6.8 v-4 h-1.8 v-2.6 h-3.2 v2.6 h-1.8 z"/><path d="M1080.8 931.8 h6.8 v4 h-1.8 v2.8 h-3.2 v-2.8 h-1.8 z"/><path d="M1097.3 923.8 h6.8 v-4 h-1.8 v-2.6 h-3.2 v2.6 h-1.8 z"/><path d="M1097.3 931.8 h6.8 v4 h-1.8 v2.8 h-3.2 v-2.8 h-1.8 z"/><path d="M1107.8 923.8 h6.8 v-4 h-1.8 v-2.6 h-3.2 v2.6 h-1.8 z"/><path d="M1107.8 931.8 h6.8 v4 h-1.8 v2.8 h-3.2 v-2.8 h-1.8 z"/><path d="M1118.4 923.8 h6.8 v-4 h-1.8 v-2.6 h-3.2 v2.6 h-1.8 z"/><path d="M1118.4 931.8 h6.8 v4 h-1.8 v2.8 h-3.2 v-2.8 h-1.8 z"/><path d="M1129.0 923.8 h6.8 v-4 h-1.8 v-2.6 h-3.2 v2.6 h-1.8 z"/><path d="M1129.0 931.8 h6.8 v4 h-1.8 v2.8 h-3.2 v-2.8 h-1.8 z"/><path d="M1139.5 923.8 h6.8 v-4 h-1.8 v-2.6 h-3.2 v2.6 h-1.8 z"/><path d="M1139.5 931.8 h6.8 v4 h-1.8 v2.8 h-3.2 v-2.8 h-1.8 z"/><path d="M1150.0 923.8 h6.8 v-4 h-1.8 v-2.6 h-3.2 v2.6 h-1.8 z"/><path d="M1150.0 931.8 h6.8 v4 h-1.8 v2.8 h-3.2 v-2.8 h-1.8 z"/><path d="M1166.6 923.8 h6.8 v-4 h-1.8 v-2.6 h-3.2 v2.6 h-1.8 z"/><path d="M1166.6 931.8 h6.8 v4 h-1.8 v2.8 h-3.2 v-2.8 h-1.8 z"/><path d="M1177.1 923.8 h6.8 v-4 h-1.8 v-2.6 h-3.2 v2.6 h-1.8 z"/><path d="M1177.1 931.8 h6.8 v4 h-1.8 v2.8 h-3.2 v-2.8 h-1.8 z"/><path d="M1187.7 923.8 h6.8 v-4 h-1.8 v-2.6 h-3.2 v2.6 h-1.8 z"/><path d="M1187.7 931.8 h6.8 v4 h-1.8 v2.8 h-3.2 v-2.8 h-1.8 z"/><path d="M1198.2 923.8 h6.8 v-4 h-1.8 v-2.6 h-3.2 v2.6 h-1.8 z"/><path d="M1198.2 931.8 h6.8 v4 h-1.8 v2.8 h-3.2 v-2.8 h-1.8 z"/><path d="M1208.8 923.8 h6.8 v-4 h-1.8 v-2.6 h-3.2 v2.6 h-1.8 z"/><path d="M1208.8 931.8 h6.8 v4 h-1.8 v2.8 h-3.2 v-2.8 h-1.8 z"/><path d="M1219.3 923.8 h6.8 v-4 h-1.8 v-2.6 h-3.2 v2.6 h-1.8 z"/><path d="M1219.3 931.8 h6.8 v4 h-1.8 v2.8 h-3.2 v-2.8 h-1.8 z"/><path d="M1239.5 931.8 h6.8 v4 h-1.8 v2.8 h-3.2 v-2.8 h-1.8 z"/><path d="M1250.2 931.8 h6.8 v4 h-1.8 v2.8 h-3.2 v-2.8 h-1.8 z"/><path d="M1260.9 931.8 h6.8 v4 h-1.8 v2.8 h-3.2 v-2.8 h-1.8 z"/><path d="M1271.6 931.8 h6.8 v4 h-1.8 v2.8 h-3.2 v-2.8 h-1.8 z"/></g>
</g>
<g transform="translate(193 466)"><rect x="0.3" y="16.3" width="115.8" height="34.6" rx="3.2" fill="#20559f"/>
<g fill="#eef6ff"><rect x="11.9" y="22.8" width="11.3" height="5.8"/><rect x="28.3" y="22.8" width="10.9" height="5.8"/><rect x="45" y="22.8" width="10.6" height="5.8"/><rect x="61" y="22.8" width="11.0" height="5.8"/><rect x="77.4" y="22.8" width="10.1" height="5.8"/><rect x="93.8" y="22.8" width="9.8" height="5.8"/><rect x="11.9" y="31.1" width="19.5" height="4.7"/><rect x="36.9" y="31.1" width="10.1" height="4.7"/><rect x="53.3" y="31.1" width="10.1" height="4.7"/><rect x="68.8" y="31.1" width="10.2" height="4.7"/><rect x="85.2" y="31.1" width="18.4" height="4.7"/><rect x="24.4" y="39.2" width="66.7" height="5.5"/></g>
<path d="M31 1.4 C35 -0.2 38 1 40 3.4 C42.5 6.2 48 5.4 53 6.6 C57 7.6 58 9.6 59.6 11.2 L60.6 12.6" fill="none" stroke="#20559f" stroke-width="4.3" stroke-linecap="round"/></g>
<g transform="translate(359 467)"><path d="M1 27 C1 18 6 14.2 13.8 14.2 C21.6 14.2 26.4 18 26.4 27 V36 C26.4 43.6 20 48.4 13.8 49.8 C7.6 48.4 1 43.6 1 36 Z" fill="#20559f"/>
<path d="M13.9 14 V27.4 M1 27.4 H26.4" stroke="#e8f2ff" stroke-width="1.2" fill="none"/>
<path d="M1.6 1.4 C3.4 1.4 4.6 3.6 6.6 4.6 C9.4 5.8 11.6 5.8 12.8 7.8 L14.2 10.4" fill="none" stroke="#20559f" stroke-width="3.9" stroke-linecap="round"/></g>
<g transform="translate(560.3 432.5)"><rect x="0" y="0" width="43.8" height="47.5" rx="2" fill="#20559f"/>
<rect x="4.4" y="4.3" width="35.1" height="37.2" fill="#fdfeff"/>
<rect x="20" y="1.8" width="3.6" height="1.1" fill="#dfeaff"/>
<path d="M20.2 43.6 h3.4 l-1.7 2.2 z" fill="#e8f0ff"/>
<rect x="30.8" y="15.2" width="32" height="38.6" rx="2.6" fill="#fff"/>
<rect x="31.9" y="16.3" width="29.8" height="36.4" rx="2" fill="#20559f"/>
<rect x="35.5" y="21" width="22.9" height="25.6" fill="#fdfeff"/>
<circle cx="46.7" cy="49.8" r="1.6" fill="#f0f6ff"/>
<circle cx="49.3" cy="-3.7" r="2.9" fill="#20559f"/>
<path d="M47.9 -13.6 A12.6 12.6 0 0 1 60.5 -1" fill="none" stroke="#20559f" stroke-width="5.2"/>
<path d="M47.9 -22.6 A21.6 21.6 0 0 1 69.5 -1" fill="none" stroke="#20559f" stroke-width="5.2"/></g>
<g transform="translate(1706.8 433.3)"><rect x="0" y="0" width="43.8" height="47.5" rx="2" fill="#20559f"/>
<rect x="4.4" y="4.3" width="35.1" height="37.2" fill="#fdfeff"/>
<rect x="20" y="1.8" width="3.6" height="1.1" fill="#dfeaff"/>
<path d="M20.2 43.6 h3.4 l-1.7 2.2 z" fill="#e8f0ff"/>
<rect x="30.8" y="15.2" width="32" height="38.6" rx="2.6" fill="#fff"/>
<rect x="31.9" y="16.3" width="29.8" height="36.4" rx="2" fill="#20559f"/>
<rect x="35.5" y="21" width="22.9" height="25.6" fill="#fdfeff"/>
<circle cx="46.7" cy="49.8" r="1.6" fill="#f0f6ff"/>
<circle cx="49.3" cy="-3.7" r="2.9" fill="#20559f"/>
<path d="M47.9 -13.6 A12.6 12.6 0 0 1 60.5 -1" fill="none" stroke="#20559f" stroke-width="5.2"/>
<path d="M47.9 -22.6 A21.6 21.6 0 0 1 69.5 -1" fill="none" stroke="#20559f" stroke-width="5.2"/></g>
<g transform="translate(721.9 408.7)"><g transform="translate(0 0)">
<path d="M8.4 0.7 H30.6 Q32.6 0.7 33.8 1.8 L37.8 5 Q38.6 5.8 38.6 7 V40.2 Q38.6 41.6 37.6 42.2 L33.2 45 Q32.2 45.6 30.6 45.6 H8.4 Q7 45.6 6 45 L1.4 42.2 Q0.6 41.6 0.6 40.2 V7 Q0.6 5.8 1.4 5 L5.6 1.6 Q6.8 0.7 8.4 0.7 Z" fill="#fbfdff" stroke="#204b93" stroke-width="1.5" stroke-linejoin="round"/>
<path d="M32 0.9 L38.4 5.6 V41.6 L32 45.4 Z" fill="#3a66b0"/>
<path d="M33.4 2.6 V44 M36.2 4.4 V42.6" stroke="#dfe9f8" stroke-width="0.9" fill="none"/>
<path d="M7.4 1 V45.4 M32 1 V45.4" stroke="#204b93" stroke-width="1.4" fill="none"/>
<path d="M3.6 4 V43" stroke="#7a9fd6" stroke-width="1.3" fill="none"/>
<ellipse cx="16.6" cy="11.4" rx="1.9" ry="2.9" fill="#fff" stroke="#204b93" stroke-width="1.4"/>
<ellipse cx="23.1" cy="11.4" rx="1.9" ry="2.9" fill="#fff" stroke="#204b93" stroke-width="1.4"/>
<path d="M8.6 17.7 h2.6 M28 17.7 h2.6 M8.6 39.4 h2.4 M28.2 39.4 h2.4" stroke="#204b93" stroke-width="1.5"/>
<circle cx="19.6" cy="27.8" r="9.6" fill="#fff" stroke="#204b93" stroke-width="2"/>
<circle cx="19.6" cy="27.8" r="3.4" fill="#2c4f96"/>
</g><rect x="41.8" y="22.4" width="25.4" height="21.8" rx="1.6" fill="#204b93"/>
<ellipse cx="54.8" cy="34.2" rx="9.4" ry="6.1" fill="none" stroke="#f4f8ff" stroke-width="1.5"/>
<ellipse cx="54.8" cy="34.2" rx="5.6" ry="3.6" fill="none" stroke="#f4f8ff" stroke-width="1.5"/>
<g fill="#a9c0e4"><circle cx="44.6" cy="25.4" r="0.8"/><circle cx="64.6" cy="25.4" r="0.8"/><circle cx="44.6" cy="41.4" r="0.8"/><circle cx="64.6" cy="41.4" r="0.8"/></g><g transform="translate(109 0) scale(-1 1)">
<path d="M8.4 0.7 H30.6 Q32.6 0.7 33.8 1.8 L37.8 5 Q38.6 5.8 38.6 7 V40.2 Q38.6 41.6 37.6 42.2 L33.2 45 Q32.2 45.6 30.6 45.6 H8.4 Q7 45.6 6 45 L1.4 42.2 Q0.6 41.6 0.6 40.2 V7 Q0.6 5.8 1.4 5 L5.6 1.6 Q6.8 0.7 8.4 0.7 Z" fill="#fbfdff" stroke="#204b93" stroke-width="1.5" stroke-linejoin="round"/>
<path d="M32 0.9 L38.4 5.6 V41.6 L32 45.4 Z" fill="#3a66b0"/>
<path d="M33.4 2.6 V44 M36.2 4.4 V42.6" stroke="#dfe9f8" stroke-width="0.9" fill="none"/>
<path d="M7.4 1 V45.4 M32 1 V45.4" stroke="#204b93" stroke-width="1.4" fill="none"/>
<path d="M3.6 4 V43" stroke="#7a9fd6" stroke-width="1.3" fill="none"/>
<ellipse cx="16.6" cy="11.4" rx="1.9" ry="2.9" fill="#fff" stroke="#204b93" stroke-width="1.4"/>
<ellipse cx="23.1" cy="11.4" rx="1.9" ry="2.9" fill="#fff" stroke="#204b93" stroke-width="1.4"/>
<path d="M8.6 17.7 h2.6 M28 17.7 h2.6 M8.6 39.4 h2.4 M28.2 39.4 h2.4" stroke="#204b93" stroke-width="1.5"/>
<circle cx="19.6" cy="27.8" r="9.6" fill="#fff" stroke="#204b93" stroke-width="2"/>
<circle cx="19.6" cy="27.8" r="3.4" fill="#2c4f96"/>
</g></g>
<g transform="translate(2115.1 408.7)"><g transform="translate(0 0)">
<path d="M8.4 0.7 H30.6 Q32.6 0.7 33.8 1.8 L37.8 5 Q38.6 5.8 38.6 7 V40.2 Q38.6 41.6 37.6 42.2 L33.2 45 Q32.2 45.6 30.6 45.6 H8.4 Q7 45.6 6 45 L1.4 42.2 Q0.6 41.6 0.6 40.2 V7 Q0.6 5.8 1.4 5 L5.6 1.6 Q6.8 0.7 8.4 0.7 Z" fill="#fbfdff" stroke="#204b93" stroke-width="1.5" stroke-linejoin="round"/>
<path d="M32 0.9 L38.4 5.6 V41.6 L32 45.4 Z" fill="#3a66b0"/>
<path d="M33.4 2.6 V44 M36.2 4.4 V42.6" stroke="#dfe9f8" stroke-width="0.9" fill="none"/>
<path d="M7.4 1 V45.4 M32 1 V45.4" stroke="#204b93" stroke-width="1.4" fill="none"/>
<path d="M3.6 4 V43" stroke="#7a9fd6" stroke-width="1.3" fill="none"/>
<ellipse cx="16.6" cy="11.4" rx="1.9" ry="2.9" fill="#fff" stroke="#204b93" stroke-width="1.4"/>
<ellipse cx="23.1" cy="11.4" rx="1.9" ry="2.9" fill="#fff" stroke="#204b93" stroke-width="1.4"/>
<path d="M8.6 17.7 h2.6 M28 17.7 h2.6 M8.6 39.4 h2.4 M28.2 39.4 h2.4" stroke="#204b93" stroke-width="1.5"/>
<circle cx="19.6" cy="27.8" r="9.6" fill="#fff" stroke="#204b93" stroke-width="2"/>
<circle cx="19.6" cy="27.8" r="3.4" fill="#2c4f96"/>
</g><rect x="41.8" y="22.4" width="25.4" height="21.8" rx="1.6" fill="#204b93"/>
<ellipse cx="54.8" cy="34.2" rx="9.4" ry="6.1" fill="none" stroke="#f4f8ff" stroke-width="1.5"/>
<ellipse cx="54.8" cy="34.2" rx="5.6" ry="3.6" fill="none" stroke="#f4f8ff" stroke-width="1.5"/>
<g fill="#a9c0e4"><circle cx="44.6" cy="25.4" r="0.8"/><circle cx="64.6" cy="25.4" r="0.8"/><circle cx="44.6" cy="41.4" r="0.8"/><circle cx="64.6" cy="41.4" r="0.8"/></g><g transform="translate(109 0) scale(-1 1)">
<path d="M8.4 0.7 H30.6 Q32.6 0.7 33.8 1.8 L37.8 5 Q38.6 5.8 38.6 7 V40.2 Q38.6 41.6 37.6 42.2 L33.2 45 Q32.2 45.6 30.6 45.6 H8.4 Q7 45.6 6 45 L1.4 42.2 Q0.6 41.6 0.6 40.2 V7 Q0.6 5.8 1.4 5 L5.6 1.6 Q6.8 0.7 8.4 0.7 Z" fill="#fbfdff" stroke="#204b93" stroke-width="1.5" stroke-linejoin="round"/>
<path d="M32 0.9 L38.4 5.6 V41.6 L32 45.4 Z" fill="#3a66b0"/>
<path d="M33.4 2.6 V44 M36.2 4.4 V42.6" stroke="#dfe9f8" stroke-width="0.9" fill="none"/>
<path d="M7.4 1 V45.4 M32 1 V45.4" stroke="#204b93" stroke-width="1.4" fill="none"/>
<path d="M3.6 4 V43" stroke="#7a9fd6" stroke-width="1.3" fill="none"/>
<ellipse cx="16.6" cy="11.4" rx="1.9" ry="2.9" fill="#fff" stroke="#204b93" stroke-width="1.4"/>
<ellipse cx="23.1" cy="11.4" rx="1.9" ry="2.9" fill="#fff" stroke="#204b93" stroke-width="1.4"/>
<path d="M8.6 17.7 h2.6 M28 17.7 h2.6 M8.6 39.4 h2.4 M28.2 39.4 h2.4" stroke="#204b93" stroke-width="1.5"/>
<circle cx="19.6" cy="27.8" r="9.6" fill="#fff" stroke="#204b93" stroke-width="2"/>
<circle cx="19.6" cy="27.8" r="3.4" fill="#2c4f96"/>
</g></g>
<g transform="translate(1520 414.4) scale(0.727)"><path d="M0.4 60.5 L42.9 53.6 V45 Q44.5 40 52 38.5 L95.9 46 L110.7 40.7 L134.5 55.5 L133.7 64.4 L20.3 92.1 L0.4 68.7 Z" fill="#20559f"/>
<path d="M42.9 45.5 V57.8 A26.5 8.2 0 0 0 95.9 57.8 V45.5 Z" fill="#20559f"/>
<path d="M42.9 56 V57.8 A26.5 8.2 0 0 0 95.9 57.8 V47" fill="none" stroke="#dcebff" stroke-width="0.9"/>
<path d="M39 14.2 L80.3 33.6" stroke="#20559f" stroke-width="27.2" stroke-linecap="round" fill="none"/>
<path d="M47.6 39.1 L76.4 47.7" stroke="#dcebff" stroke-width="0.9" fill="none"/>
<circle cx="80.3" cy="33.6" r="10.4" fill="#f4f9ff"/>
<circle cx="80.6" cy="33.2" r="6.9" fill="#8d8a92"/>
<path d="M76.6 31.4 A4 4 0 0 0 80 34.4 L79.6 31 Z" fill="#f4f9ff"/></g>
<g transform="translate(1860.2 1347)"><path d="M0.4 60.5 L42.9 53.6 V45 Q44.5 40 52 38.5 L95.9 46 L110.7 40.7 L134.5 55.5 L133.7 64.4 L20.3 92.1 L0.4 68.7 Z" fill="#20559f"/>
<path d="M42.9 45.5 V57.8 A26.5 8.2 0 0 0 95.9 57.8 V45.5 Z" fill="#20559f"/>
<path d="M42.9 56 V57.8 A26.5 8.2 0 0 0 95.9 57.8 V47" fill="none" stroke="#dcebff" stroke-width="0.9"/>
<path d="M39 14.2 L80.3 33.6" stroke="#20559f" stroke-width="27.2" stroke-linecap="round" fill="none"/>
<path d="M47.6 39.1 L76.4 47.7" stroke="#dcebff" stroke-width="0.9" fill="none"/>
<circle cx="80.3" cy="33.6" r="10.4" fill="#f4f9ff"/>
<circle cx="80.6" cy="33.2" r="6.9" fill="#20559f"/>
<path d="M76.6 31.4 A4 4 0 0 0 80 34.4 L79.6 31 Z" fill="#f4f9ff"/></g>
<g transform="translate(254.5 1335.6)"><rect x="13.8" y="0" width="104" height="71.8" rx="8.5" fill="#20559f"/>
<rect x="35.7" y="7.3" width="73.8" height="57.2" rx="4.5" fill="#fff"/>
<path d="M54.7 71 H76.7 V82 L88 92.5 Q88.6 95 86.5 95.2 H46 Q43.4 95 44.4 92.5 L54.7 82 Z" fill="#20559f"/>
<rect x="-1.3" y="11" width="38.3" height="85.5" rx="6.6" fill="#fff"/>
<rect x="0" y="12.3" width="35.7" height="82.9" rx="5.5" fill="#20559f"/>
<rect x="7.3" y="19" width="22" height="5.4" fill="#fff"/>
<rect x="7.3" y="31.6" width="22" height="5.9" fill="#fff"/>
<rect x="7.3" y="69.4" width="6.5" height="6.5" fill="#fff"/></g>
<g transform="translate(522.4 1335.6)"><path d="M66 3 L103.2 18 V70.2 L66 88 Z" fill="#20559f" stroke="#20559f" stroke-width="3.4" stroke-linejoin="round"/>
<rect x="-1.6" y="-1.5" width="74" height="93" rx="12.5" fill="#fff"/>
<rect x="0" y="0" width="70.8" height="90.2" rx="11" fill="#20559f"/>
<rect x="10.2" y="8.2" width="51" height="39.2" rx="1.5" fill="#fff"/>
<rect x="13.6" y="11.6" width="44.2" height="13.6" fill="#20559f"/>
<rect x="13.6" y="28.8" width="44.2" height="15.2" fill="#20559f"/>
<circle cx="35.2" cy="65" r="6.6" fill="#fff"/></g>
<g transform="translate(794.3 1352.2)"><rect x="14.6" y="0" width="102.6" height="57" rx="1.2" fill="#20559f"/>
<rect x="21.2" y="3.6" width="89.4" height="46.4" fill="#fff"/>
<rect x="0" y="54.6" width="131.8" height="4.6" rx="1" fill="#20559f"/>
<rect x="53.6" y="52.6" width="23.6" height="2.2" fill="#fff"/></g>
<g transform="translate(1147 1376.2)"><rect x="-9.4" y="36" width="19" height="4" fill="#20559f"/>
<rect x="-29.2" y="38" width="59.4" height="10.3" fill="#20559f"/>
<circle cx="0" cy="0" r="39" fill="#20559f"/>
<ellipse cx="-0.6" cy="-31.6" rx="12.6" ry="4.6" fill="#fff"/>
<circle cx="0" cy="-0.8" r="19.2" fill="#fff"/>
<circle cx="0" cy="-2.2" r="10.4" fill="#20559f"/>
<path d="M-8.2 -5.2 A8.2 8.2 0 0 0 2.4 2.6 A5.6 5.6 0 0 1 -3.6 -7.4 Z" fill="#fff"/></g>
<g transform="translate(1310 1325)"><path d="M33.4 13 L41.6 13.3 L111.3 53.6 Q114.6 57.3 111.8 61.4 L85.9 73.3 L21.4 35.6 Q20.6 32 21.6 29.4 L29.3 16.4 Q31 13.4 33.4 13 Z" fill="#20559f" stroke="#20559f" stroke-width="1" stroke-linejoin="round"/>
<path d="M24.9 41.5 L85.9 74.5 L96.8 70.4 L88.6 82.5 L82.5 81.5 L53.2 67.1 L42.3 77 H26.2 V69.5 H37.8 V57.9 L21.1 48.4 Z" fill="#20559f"/>
<path d="M16.4 53.9 L26.2 60 V85.2 L16.4 92 Z" fill="#20559f"/></g>
<g transform="translate(1616.2 1340.4)"><rect x="-21.4" y="0" width="42.8" height="62.5" rx="21.4" fill="#20559f"/>
<path d="M-32 49.5 A32.5 32.5 0 0 0 32.4 49.5" fill="none" stroke="#20559f" stroke-width="3.4"/>
<rect x="-1.7" y="71" width="3.4" height="11" fill="#20559f"/>
<rect x="-8.2" y="81.3" width="16.6" height="4.4" fill="#20559f"/></g>
<text x="196.3" y="235.3" font-size="18.5" font-weight="bold" fill="#000" textLength="208.2" lengthAdjust="spacingAndGlyphs">Seat collaboration area</text>
<text x="1074.6" y="239.5" font-size="18.5" font-weight="bold" fill="#000" textLength="196.0" lengthAdjust="spacingAndGlyphs">Command Center Hall</text>
<text x="1892.8" y="312.2" font-size="17.8" font-weight="normal" fill="#000" stroke="#000" stroke-width="0.8" textLength="126.2" lengthAdjust="spacingAndGlyphs">Decision Room</text>
<text x="539.4" y="376.4" font-size="17.8" font-weight="normal" fill="#000" stroke="#000" stroke-width="0.8" textLength="123.2" lengthAdjust="spacingAndGlyphs">Central control</text>
<text x="559.7" y="396.5" font-size="17.8" font-weight="normal" fill="#000" stroke="#000" stroke-width="0.8" textLength="88.3" lengthAdjust="spacingAndGlyphs">equipment</text>
<text x="721.3" y="375.1" font-size="17.8" font-weight="normal" fill="#000" stroke="#000" stroke-width="0.8" textLength="113.2" lengthAdjust="spacingAndGlyphs">Audio system</text>
<text x="730.1" y="538.2" font-size="17.8" font-weight="normal" fill="#000" stroke="#000" stroke-width="0.8" textLength="96.1" lengthAdjust="spacingAndGlyphs">audio cable</text>
<text x="1499.5" y="380.9" font-size="17.8" font-weight="normal" fill="#000" stroke="#000" stroke-width="0.8" textLength="143.2" lengthAdjust="spacingAndGlyphs">video conference</text>
<text x="1678.2" y="370.0" font-size="17.8" font-weight="normal" fill="#000" stroke="#000" stroke-width="0.8" textLength="122.7" lengthAdjust="spacingAndGlyphs">Central control</text>
<text x="1698.6" y="390.4" font-size="17.8" font-weight="normal" fill="#000" stroke="#000" stroke-width="0.8" textLength="87.8" lengthAdjust="spacingAndGlyphs">equipment</text>
<text x="2113.8" y="376.8" font-size="17.8" font-weight="normal" fill="#000" stroke="#000" stroke-width="0.8" textLength="112.6" lengthAdjust="spacingAndGlyphs">Audio system</text>
<text x="2126.9" y="540.0" font-size="17.8" font-weight="normal" fill="#000" stroke="#000" stroke-width="0.8" textLength="96.3" lengthAdjust="spacingAndGlyphs">audio cable</text>
<text x="968.3" y="541.6" font-size="15.8" font-weight="normal" fill="#000" stroke="#000" stroke-width="0.15" textLength="37.6" lengthAdjust="spacingAndGlyphs">HDMI</text>
<text x="1158.6" y="541.6" font-size="15.8" font-weight="normal" fill="#000" stroke="#000" stroke-width="0.15" textLength="37.6" lengthAdjust="spacingAndGlyphs">HDMI</text>
<text x="1348.6" y="541.6" font-size="15.8" font-weight="normal" fill="#000" stroke="#000" stroke-width="0.15" textLength="37.6" lengthAdjust="spacingAndGlyphs">HDMI</text>
<text x="1511.8" y="541.0" font-size="15.8" font-weight="normal" fill="#000" stroke="#000" stroke-width="0.15" textLength="37.6" lengthAdjust="spacingAndGlyphs">HDMI</text>
<text x="1591.8" y="541.0" font-size="15.8" font-weight="normal" fill="#000" stroke="#000" stroke-width="0.15" textLength="37.6" lengthAdjust="spacingAndGlyphs">HDMI</text>
<text x="1903.1" y="539.9" font-size="15.8" font-weight="normal" fill="#000" stroke="#000" stroke-width="0.15" textLength="37.6" lengthAdjust="spacingAndGlyphs">HDMI</text>
<text x="1981.3" y="539.9" font-size="15.8" font-weight="normal" fill="#000" stroke="#000" stroke-width="0.15" textLength="37.6" lengthAdjust="spacingAndGlyphs">HDMI</text>
<text x="254.5" y="567.8" font-size="10.6" font-weight="normal" fill="#000" stroke="#000" stroke-width="0.1" textLength="22.9" lengthAdjust="spacingAndGlyphs">USB</text>
<text x="342.1" y="567.8" font-size="10.6" font-weight="normal" fill="#000" stroke="#000" stroke-width="0.1" textLength="22.9" lengthAdjust="spacingAndGlyphs">USB</text>
<text x="295.0" y="567.8" font-size="10.6" font-weight="normal" fill="#000" textLength="22.2" lengthAdjust="spacingAndGlyphs" font-family="Liberation Serif">HDMI</text>
<text x="257.5" y="682.1" font-size="17.8" font-weight="normal" fill="#000" stroke="#000" stroke-width="0.8" textLength="103.2" lengthAdjust="spacingAndGlyphs">Output node</text>
<text x="545.4" y="681.3" font-size="17.8" font-weight="normal" fill="#000" stroke="#000" stroke-width="0.8" textLength="103.2" lengthAdjust="spacingAndGlyphs">Output node</text>
<text x="731.4" y="681.3" font-size="17.8" font-weight="normal" fill="#000" stroke="#000" stroke-width="0.8" textLength="103.2" lengthAdjust="spacingAndGlyphs">Output node</text>
<text x="923.6" y="681.3" font-size="17.8" font-weight="normal" fill="#000" stroke="#000" stroke-width="0.8" textLength="103.2" lengthAdjust="spacingAndGlyphs">Output node</text>
<text x="1118.5" y="681.3" font-size="17.8" font-weight="normal" fill="#000" stroke="#000" stroke-width="0.8" textLength="103.2" lengthAdjust="spacingAndGlyphs">Output node</text>
<text x="1314.5" y="681.3" font-size="17.8" font-weight="normal" fill="#000" stroke="#000" stroke-width="0.8" textLength="103.2" lengthAdjust="spacingAndGlyphs">Output node</text>
<text x="1515.4" y="681.1" font-size="17.8" font-weight="normal" fill="#000" stroke="#000" stroke-width="0.8" textLength="103.2" lengthAdjust="spacingAndGlyphs">Output node</text>
<text x="1711.4" y="681.1" font-size="17.8" font-weight="normal" fill="#000" stroke="#000" stroke-width="0.8" textLength="103.2" lengthAdjust="spacingAndGlyphs">Output node</text>
<text x="1905.4" y="681.1" font-size="17.8" font-weight="normal" fill="#000" stroke="#000" stroke-width="0.8" textLength="103.2" lengthAdjust="spacingAndGlyphs">Output node</text>
<text x="2125.5" y="681.1" font-size="17.8" font-weight="normal" fill="#000" stroke="#000" stroke-width="0.8" textLength="103.2" lengthAdjust="spacingAndGlyphs">Output node</text>
<text x="1056.2" y="861.3" font-size="17.8" font-weight="normal" fill="#000" stroke="#000" stroke-width="0.8" textLength="123.8" lengthAdjust="spacingAndGlyphs">network switch</text>
<text x="278.6" y="1163.2" font-size="17.8" font-weight="normal" fill="#000" stroke="#000" stroke-width="0.8" textLength="88.8" lengthAdjust="spacingAndGlyphs">Input node</text>
<text x="529.7" y="1163.2" font-size="17.8" font-weight="normal" fill="#000" stroke="#000" stroke-width="0.8" textLength="88.8" lengthAdjust="spacingAndGlyphs">Input node</text>
<text x="821.8" y="1163.2" font-size="17.8" font-weight="normal" fill="#000" stroke="#000" stroke-width="0.8" textLength="88.8" lengthAdjust="spacingAndGlyphs">Input node</text>
<text x="1109.9" y="1163.2" font-size="17.8" font-weight="normal" fill="#000" stroke="#000" stroke-width="0.8" textLength="88.8" lengthAdjust="spacingAndGlyphs">Input node</text>
<text x="1571.8" y="1163.2" font-size="17.8" font-weight="normal" fill="#000" stroke="#000" stroke-width="0.8" textLength="88.8" lengthAdjust="spacingAndGlyphs">Input node</text>
<text x="1881.7" y="1163.2" font-size="17.8" font-weight="normal" fill="#000" stroke="#000" stroke-width="0.8" textLength="88.8" lengthAdjust="spacingAndGlyphs">Input node</text>
<text x="265.4" y="1285.0" font-size="14.2" font-weight="normal" fill="#000" textLength="26.3" lengthAdjust="spacingAndGlyphs">USB</text>
<text x="300.5" y="1285.0" font-size="14.2" font-weight="normal" fill="#000" textLength="38.1" lengthAdjust="spacingAndGlyphs">HDMI</text>
<text x="525.4" y="1285.0" font-size="14.2" font-weight="normal" fill="#000" textLength="64.9" lengthAdjust="spacingAndGlyphs">USBHDMI</text>
<text x="808.4" y="1286.0" font-size="14.2" font-weight="normal" fill="#000" textLength="26.3" lengthAdjust="spacingAndGlyphs">USB</text>
<text x="843.5" y="1285.0" font-size="14.2" font-weight="normal" fill="#000" textLength="37.7" lengthAdjust="spacingAndGlyphs">HDMI</text>
<text x="1127.4" y="1285.0" font-size="14.2" font-weight="normal" fill="#000" textLength="38.1" lengthAdjust="spacingAndGlyphs">HDMI</text>
<text x="1568.3" y="1274.1" font-size="17.8" font-weight="normal" fill="#000" stroke="#000" stroke-width="0.8" textLength="95.7" lengthAdjust="spacingAndGlyphs">audio cable</text>
<text x="1883.0" y="1270.8" font-size="15.6" font-weight="normal" fill="#000" stroke="#000" stroke-width="0.1" textLength="38.4" lengthAdjust="spacingAndGlyphs">HDMI</text>
<text x="1932.7" y="1270.8" font-size="15.6" font-weight="normal" fill="#000" stroke="#000" stroke-width="0.1" textLength="38.1" lengthAdjust="spacingAndGlyphs">HDMI</text>
<text x="246.3" y="1481.4" font-size="17.8" font-weight="normal" fill="#000" stroke="#000" stroke-width="0.8" textLength="151.4" lengthAdjust="spacingAndGlyphs">Seat collaboration</text>
<text x="490.8" y="1477.6" font-size="17.8" font-weight="normal" fill="#000" stroke="#000" stroke-width="0.8" textLength="166.9" lengthAdjust="spacingAndGlyphs">imaging workstation</text>
<text x="810.2" y="1481.6" font-size="17.8" font-weight="normal" fill="#000" stroke="#000" stroke-width="0.8" textLength="107.9" lengthAdjust="spacingAndGlyphs">notebook/PC</text>
<text x="1080.0" y="1477.8" font-size="17.8" font-weight="normal" fill="#000" stroke="#000" stroke-width="0.8" textLength="133.8" lengthAdjust="spacingAndGlyphs">Meeting camera</text>
<text x="1294.3" y="1481.6" font-size="17.8" font-weight="normal" fill="#000" stroke="#000" stroke-width="0.8" textLength="167.7" lengthAdjust="spacingAndGlyphs">surveillance camera</text>
<text x="1574.6" y="1478.7" font-size="17.8" font-weight="normal" fill="#000" stroke="#000" stroke-width="0.8" textLength="112.2" lengthAdjust="spacingAndGlyphs">Audio system</text>
<text x="1859.8" y="1482.0" font-size="17.8" font-weight="normal" fill="#000" stroke="#000" stroke-width="0.8" textLength="142.8" lengthAdjust="spacingAndGlyphs">video conference</text>
<text x="2056.0" y="1281.8" font-size="17.8" font-weight="normal" fill="#000" stroke="#000" stroke-width="0.8" textLength="87.6" lengthAdjust="spacingAndGlyphs">annotation</text>
<line x1="2065" y1="1310.1" x2="2140" y2="1310.1" stroke="#244f94" stroke-width="4" stroke-linecap="round"/>
<line x1="2065" y1="1342" x2="2140" y2="1342" stroke="#c8434f" stroke-width="3.4" stroke-linecap="round"/>
<line x1="2065" y1="1371.9" x2="2140" y2="1371.9" stroke="#a9a9b9" stroke-width="3.4" stroke-linecap="round"/>
<line x1="2065" y1="1403.4" x2="2140" y2="1403.4" stroke="#6ba9a5" stroke-width="2.8" stroke-linecap="round"/>
<line x1="2065" y1="1436.1" x2="2140" y2="1436.1" stroke="#63967e" stroke-width="3.6" stroke-linecap="round"/>
<text x="2168.7" y="1313.0" font-size="17.8" font-weight="normal" fill="#000" stroke="#000" stroke-width="0.8" textLength="120.2" lengthAdjust="spacingAndGlyphs">network signal</text>
<text x="2167.5" y="1345.1" font-size="17.8" font-weight="normal" fill="#000" stroke="#000" stroke-width="0.8" textLength="111.9" lengthAdjust="spacingAndGlyphs">control signal</text>
<text x="2169.4" y="1376.4" font-size="17.8" font-weight="normal" fill="#000" stroke="#000" stroke-width="0.8" textLength="100.1" lengthAdjust="spacingAndGlyphs">video signal</text>
<text x="2168.3" y="1408.4" font-size="17.8" font-weight="normal" fill="#000" stroke="#000" stroke-width="0.8" textLength="92.7" lengthAdjust="spacingAndGlyphs">USB signal</text>
<text x="2167.5" y="1440.8" font-size="17.8" font-weight="normal" fill="#000" stroke="#000" stroke-width="0.8" textLength="100.9" lengthAdjust="spacingAndGlyphs">audio signal</text>
</svg></body></html>
